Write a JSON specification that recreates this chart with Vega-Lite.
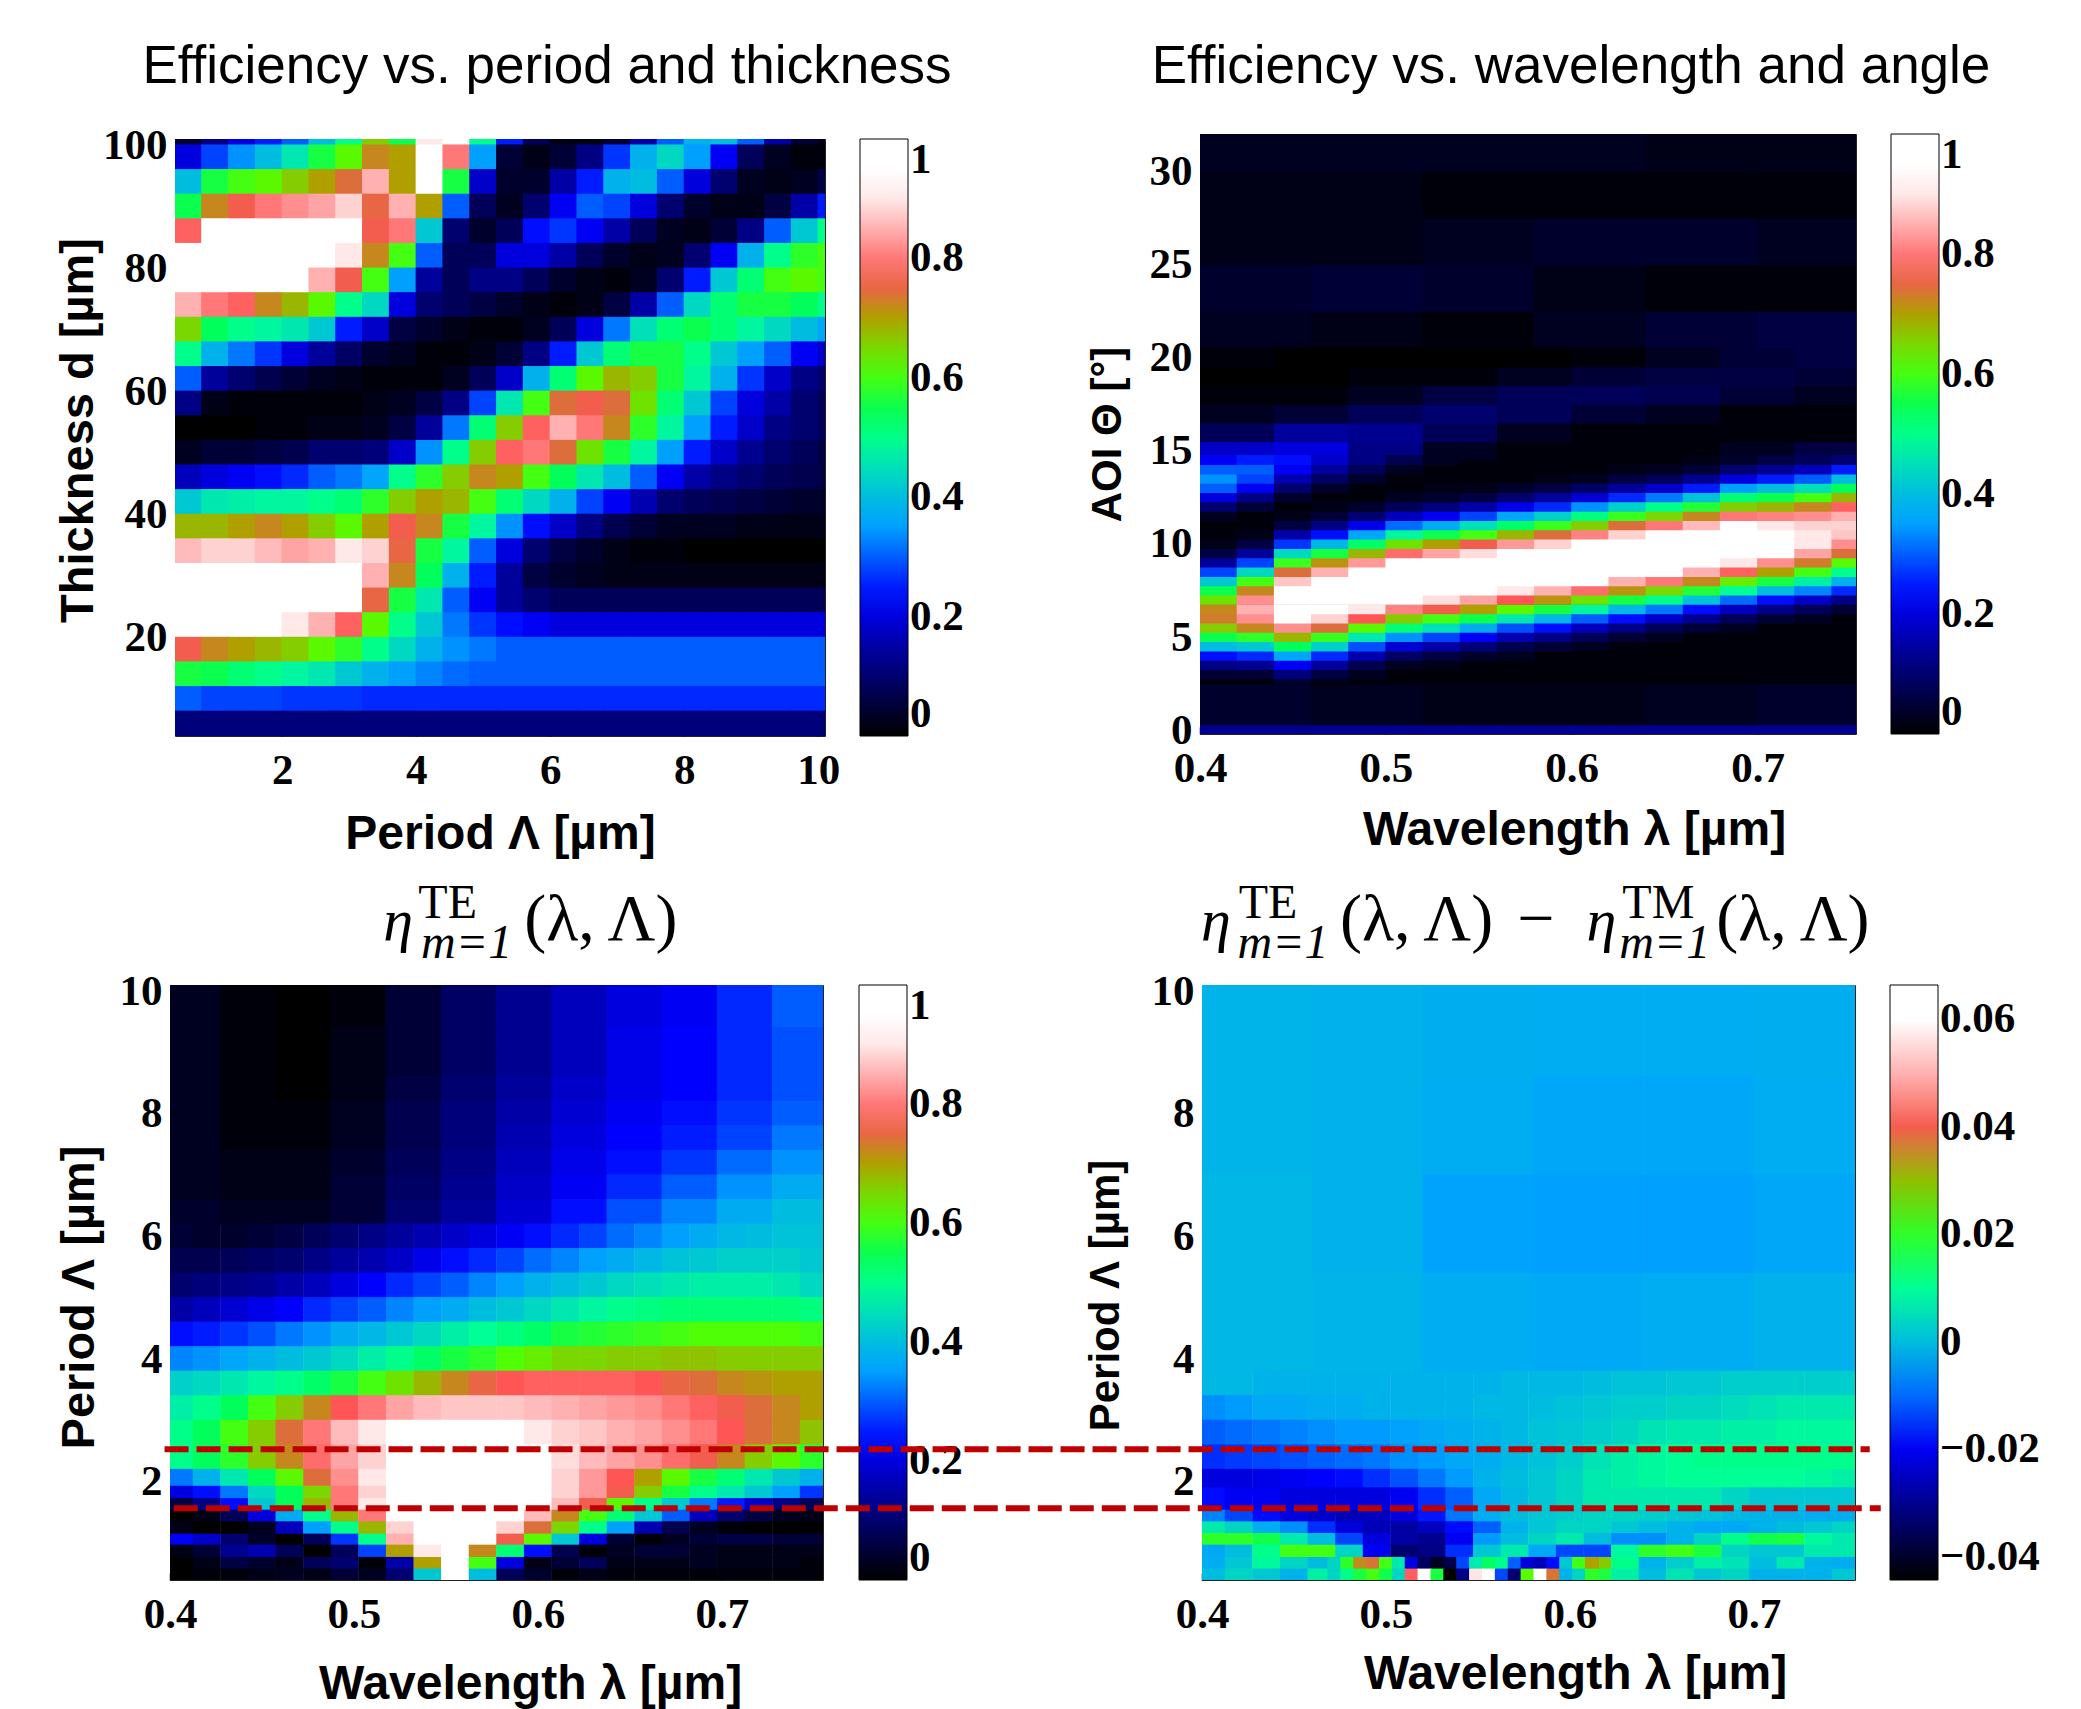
{"$schema":"https://vega.github.io/schema/vega-lite/v6.json","padding":{"left":54,"top":40,"right":5,"bottom":5},"background":"white","bounds":"flush","spacing":851,"resolve":{"scale":{"color":"independent"},"legend":{"color":"independent"}},"config":{"view":{"stroke":"#222","strokeWidth":1},"axis":{"grid":false,"labelFont":"Liberation Serif","labelFontWeight":"bold","labelFontSize":43,"labelColor":"#000","titleFont":"Liberation Sans","titleFontWeight":"bold","titleColor":"#000","titleFontSize":48,"tickColor":"#000","tickSize":-7,"tickWidth":1.5,"domain":false,"zindex":1,"labelFlush":false,"labelOverlap":false},"axisX":{"labelPadding":20,"titlePadding":18},"axisY":{"labelPadding":15,"titlePadding":0},"legend":{"title":null,"labelFont":"Liberation Serif","labelFontWeight":"bold","labelFontSize":43,"labelColor":"#000","gradientStrokeColor":"#000","gradientStrokeWidth":1,"padding":0,"labelOffset":11,"labelOverlap":false,"labelBaseline":"middle","gradientThickness":48},"title":{"font":"Liberation Sans","fontWeight":"normal","fontSize":53,"color":"#000"}},"vconcat":[{"bounds":"flush","spacing":1030,"resolve":{"scale":{"color":"independent"},"legend":{"color":"independent"}},"hconcat":[{"bounds":"flush","spacing":0,"resolve":{"scale":{"color":"independent"},"legend":{"color":"independent"}},"vconcat":[{"width":5,"height":5,"view":{"stroke":null},"data":{"values":[{}]},"mark":{"type":"point","opacity":0},"encoding":{}},{"bounds":"flush","spacing":0,"resolve":{"scale":{"color":"independent"},"legend":{"color":"independent"}},"hconcat":[{"width":5,"height":5,"view":{"stroke":null},"data":{"values":[{}]},"mark":{"type":"point","opacity":0},"encoding":{}},{"width":650,"height":597,"title":{"text":"Efficiency vs. period and thickness","dx":47,"offset":30},"data":{"values":[
{"x":0.6,"y":102,"v":0.05},{"x":1,"y":102,"v":0.12},{"x":1.4,"y":102,"v":0.2},{"x":1.8,"y":102,"v":0.25},{"x":2.2,"y":102,"v":0.3},{"x":2.6,"y":102,"v":0.4},{"x":3,"y":102,"v":0.5},{"x":3.4,"y":102,"v":0.66},{"x":3.8,"y":102,"v":0.55},{"x":4.2,"y":102,"v":0.9},{"x":4.6,"y":102,"v":0.95},{"x":5,"y":102,"v":0.5},{"x":5.4,"y":102,"v":0.25},{"x":5.8,"y":102,"v":0.08},{"x":6.2,"y":102,"v":0.02},{"x":6.6,"y":102,"v":0.02},{"x":7,"y":102,"v":0.05},{"x":7.4,"y":102,"v":0.15},{"x":7.8,"y":102,"v":0.3},{"x":8.2,"y":102,"v":0.38},{"x":8.6,"y":102,"v":0.4},{"x":9,"y":102,"v":0.3},{"x":9.4,"y":102,"v":0.15},{"x":9.8,"y":102,"v":0.05},{"x":10.2,"y":102,"v":0.02},
{"x":0.6,"y":98,"v":0.2},{"x":1,"y":98,"v":0.28},{"x":1.4,"y":98,"v":0.34},{"x":1.8,"y":98,"v":0.4},{"x":2.2,"y":98,"v":0.46},{"x":2.6,"y":98,"v":0.56},{"x":3,"y":98,"v":0.62},{"x":3.4,"y":98,"v":0.72},{"x":3.8,"y":98,"v":0.7},{"x":4.2,"y":98,"v":0.97},{"x":4.6,"y":98,"v":0.8},{"x":5,"y":98,"v":0.35},{"x":5.4,"y":98,"v":0.05},{"x":5.8,"y":98,"v":0.02},{"x":6.2,"y":98,"v":0.05},{"x":6.6,"y":98,"v":0.12},{"x":7,"y":98,"v":0.27},{"x":7.4,"y":98,"v":0.38},{"x":7.8,"y":98,"v":0.44},{"x":8.2,"y":98,"v":0.35},{"x":8.6,"y":98,"v":0.22},{"x":9,"y":98,"v":0.08},{"x":9.4,"y":98,"v":0.03},{"x":9.8,"y":98,"v":0.01},{"x":10.2,"y":98,"v":0.01},
{"x":0.6,"y":94,"v":0.4},{"x":1,"y":94,"v":0.56},{"x":1.4,"y":94,"v":0.6},{"x":1.8,"y":94,"v":0.62},{"x":2.2,"y":94,"v":0.66},{"x":2.6,"y":94,"v":0.7},{"x":3,"y":94,"v":0.74},{"x":3.4,"y":94,"v":0.85},{"x":3.8,"y":94,"v":0.7},{"x":4.2,"y":94,"v":0.98},{"x":4.6,"y":94,"v":0.56},{"x":5,"y":94,"v":0.18},{"x":5.4,"y":94,"v":0.04},{"x":5.8,"y":94,"v":0.04},{"x":6.2,"y":94,"v":0.15},{"x":6.6,"y":94,"v":0.25},{"x":7,"y":94,"v":0.38},{"x":7.4,"y":94,"v":0.4},{"x":7.8,"y":94,"v":0.3},{"x":8.2,"y":94,"v":0.2},{"x":8.6,"y":94,"v":0.1},{"x":9,"y":94,"v":0.03},{"x":9.4,"y":94,"v":0.02},{"x":9.8,"y":94,"v":0.03},{"x":10.2,"y":94,"v":0.06},
{"x":0.6,"y":90,"v":0.55},{"x":1,"y":90,"v":0.72},{"x":1.4,"y":90,"v":0.76},{"x":1.8,"y":90,"v":0.8},{"x":2.2,"y":90,"v":0.82},{"x":2.6,"y":90,"v":0.84},{"x":3,"y":90,"v":0.88},{"x":3.4,"y":90,"v":0.75},{"x":3.8,"y":90,"v":0.85},{"x":4.2,"y":90,"v":0.7},{"x":4.6,"y":90,"v":0.3},{"x":5,"y":90,"v":0.08},{"x":5.4,"y":90,"v":0.03},{"x":5.8,"y":90,"v":0.1},{"x":6.2,"y":90,"v":0.22},{"x":6.6,"y":90,"v":0.3},{"x":7,"y":90,"v":0.28},{"x":7.4,"y":90,"v":0.2},{"x":7.8,"y":90,"v":0.1},{"x":8.2,"y":90,"v":0.04},{"x":8.6,"y":90,"v":0.02},{"x":9,"y":90,"v":0.02},{"x":9.4,"y":90,"v":0.06},{"x":9.8,"y":90,"v":0.15},{"x":10.2,"y":90,"v":0.25},
{"x":0.6,"y":86,"v":0.78},{"x":1,"y":86,"v":0.92},{"x":1.4,"y":86,"v":0.98},{"x":1.8,"y":86,"v":1},{"x":2.2,"y":86,"v":1},{"x":2.6,"y":86,"v":0.98},{"x":3,"y":86,"v":0.95},{"x":3.4,"y":86,"v":0.76},{"x":3.8,"y":86,"v":0.8},{"x":4.2,"y":86,"v":0.42},{"x":4.6,"y":86,"v":0.1},{"x":5,"y":86,"v":0.04},{"x":5.4,"y":86,"v":0.08},{"x":5.8,"y":86,"v":0.24},{"x":6.2,"y":86,"v":0.27},{"x":6.6,"y":86,"v":0.22},{"x":7,"y":86,"v":0.15},{"x":7.4,"y":86,"v":0.08},{"x":7.8,"y":86,"v":0.03},{"x":8.2,"y":86,"v":0.02},{"x":8.6,"y":86,"v":0.05},{"x":9,"y":86,"v":0.12},{"x":9.4,"y":86,"v":0.3},{"x":9.8,"y":86,"v":0.42},{"x":10.2,"y":86,"v":0.5},
{"x":0.6,"y":82,"v":0.95},{"x":1,"y":82,"v":1},{"x":1.4,"y":82,"v":1},{"x":1.8,"y":82,"v":1},{"x":2.2,"y":82,"v":1},{"x":2.6,"y":82,"v":0.98},{"x":3,"y":82,"v":0.9},{"x":3.4,"y":82,"v":0.72},{"x":3.8,"y":82,"v":0.6},{"x":4.2,"y":82,"v":0.3},{"x":4.6,"y":82,"v":0.08},{"x":5,"y":82,"v":0.08},{"x":5.4,"y":82,"v":0.2},{"x":5.8,"y":82,"v":0.2},{"x":6.2,"y":82,"v":0.15},{"x":6.6,"y":82,"v":0.08},{"x":7,"y":82,"v":0.04},{"x":7.4,"y":82,"v":0.02},{"x":7.8,"y":82,"v":0.03},{"x":8.2,"y":82,"v":0.1},{"x":8.6,"y":82,"v":0.22},{"x":9,"y":82,"v":0.38},{"x":9.4,"y":82,"v":0.5},{"x":9.8,"y":82,"v":0.58},{"x":10.2,"y":82,"v":0.6},
{"x":0.6,"y":78,"v":1},{"x":1,"y":78,"v":1},{"x":1.4,"y":78,"v":1},{"x":1.8,"y":78,"v":0.98},{"x":2.2,"y":78,"v":0.92},{"x":2.6,"y":78,"v":0.85},{"x":3,"y":78,"v":0.76},{"x":3.4,"y":78,"v":0.6},{"x":3.8,"y":78,"v":0.35},{"x":4.2,"y":78,"v":0.14},{"x":4.6,"y":78,"v":0.08},{"x":5,"y":78,"v":0.12},{"x":5.4,"y":78,"v":0.12},{"x":5.8,"y":78,"v":0.08},{"x":6.2,"y":78,"v":0.04},{"x":6.6,"y":78,"v":0.02},{"x":7,"y":78,"v":0.01},{"x":7.4,"y":78,"v":0.03},{"x":7.8,"y":78,"v":0.1},{"x":8.2,"y":78,"v":0.25},{"x":8.6,"y":78,"v":0.42},{"x":9,"y":78,"v":0.52},{"x":9.4,"y":78,"v":0.6},{"x":9.8,"y":78,"v":0.62},{"x":10.2,"y":78,"v":0.6},
{"x":0.6,"y":74,"v":0.85},{"x":1,"y":74,"v":0.8},{"x":1.4,"y":74,"v":0.78},{"x":1.8,"y":74,"v":0.72},{"x":2.2,"y":74,"v":0.68},{"x":2.6,"y":74,"v":0.62},{"x":3,"y":74,"v":0.5},{"x":3.4,"y":74,"v":0.44},{"x":3.8,"y":74,"v":0.2},{"x":4.2,"y":74,"v":0.1},{"x":4.6,"y":74,"v":0.08},{"x":5,"y":74,"v":0.06},{"x":5.4,"y":74,"v":0.04},{"x":5.8,"y":74,"v":0.02},{"x":6.2,"y":74,"v":0.01},{"x":6.6,"y":74,"v":0.02},{"x":7,"y":74,"v":0.06},{"x":7.4,"y":74,"v":0.15},{"x":7.8,"y":74,"v":0.3},{"x":8.2,"y":74,"v":0.44},{"x":8.6,"y":74,"v":0.52},{"x":9,"y":74,"v":0.56},{"x":9.4,"y":74,"v":0.56},{"x":9.8,"y":74,"v":0.54},{"x":10.2,"y":74,"v":0.5},
{"x":0.6,"y":70,"v":0.65},{"x":1,"y":70,"v":0.54},{"x":1.4,"y":70,"v":0.5},{"x":1.8,"y":70,"v":0.48},{"x":2.2,"y":70,"v":0.46},{"x":2.6,"y":70,"v":0.42},{"x":3,"y":70,"v":0.25},{"x":3.4,"y":70,"v":0.18},{"x":3.8,"y":70,"v":0.06},{"x":4.2,"y":70,"v":0.04},{"x":4.6,"y":70,"v":0.02},{"x":5,"y":70,"v":0.01},{"x":5.4,"y":70,"v":0.01},{"x":5.8,"y":70,"v":0.03},{"x":6.2,"y":70,"v":0.08},{"x":6.6,"y":70,"v":0.2},{"x":7,"y":70,"v":0.32},{"x":7.4,"y":70,"v":0.45},{"x":7.8,"y":70,"v":0.52},{"x":8.2,"y":70,"v":0.55},{"x":8.6,"y":70,"v":0.52},{"x":9,"y":70,"v":0.48},{"x":9.4,"y":70,"v":0.44},{"x":9.8,"y":70,"v":0.4},{"x":10.2,"y":70,"v":0.36},
{"x":0.6,"y":66,"v":0.5},{"x":1,"y":66,"v":0.38},{"x":1.4,"y":66,"v":0.32},{"x":1.8,"y":66,"v":0.27},{"x":2.2,"y":66,"v":0.2},{"x":2.6,"y":66,"v":0.14},{"x":3,"y":66,"v":0.09},{"x":3.4,"y":66,"v":0.04},{"x":3.8,"y":66,"v":0.03},{"x":4.2,"y":66,"v":0.01},{"x":4.6,"y":66,"v":0.01},{"x":5,"y":66,"v":0.02},{"x":5.4,"y":66,"v":0.05},{"x":5.8,"y":66,"v":0.12},{"x":6.2,"y":66,"v":0.25},{"x":6.6,"y":66,"v":0.42},{"x":7,"y":66,"v":0.52},{"x":7.4,"y":66,"v":0.56},{"x":7.8,"y":66,"v":0.56},{"x":8.2,"y":66,"v":0.5},{"x":8.6,"y":66,"v":0.42},{"x":9,"y":66,"v":0.35},{"x":9.4,"y":66,"v":0.3},{"x":9.8,"y":66,"v":0.22},{"x":10.2,"y":66,"v":0.18},
{"x":0.6,"y":62,"v":0.3},{"x":1,"y":62,"v":0.14},{"x":1.4,"y":62,"v":0.1},{"x":1.8,"y":62,"v":0.07},{"x":2.2,"y":62,"v":0.05},{"x":2.6,"y":62,"v":0.03},{"x":3,"y":62,"v":0.02},{"x":3.4,"y":62,"v":0.01},{"x":3.8,"y":62,"v":0.01},{"x":4.2,"y":62,"v":0.01},{"x":4.6,"y":62,"v":0.03},{"x":5,"y":62,"v":0.08},{"x":5.4,"y":62,"v":0.18},{"x":5.8,"y":62,"v":0.38},{"x":6.2,"y":62,"v":0.52},{"x":6.6,"y":62,"v":0.62},{"x":7,"y":62,"v":0.68},{"x":7.4,"y":62,"v":0.66},{"x":7.8,"y":62,"v":0.56},{"x":8.2,"y":62,"v":0.48},{"x":8.6,"y":62,"v":0.38},{"x":9,"y":62,"v":0.27},{"x":9.4,"y":62,"v":0.18},{"x":9.8,"y":62,"v":0.12},{"x":10.2,"y":62,"v":0.1},
{"x":0.6,"y":58,"v":0.12},{"x":1,"y":58,"v":0.02},{"x":1.4,"y":58,"v":0.01},{"x":1.8,"y":58,"v":0.01},{"x":2.2,"y":58,"v":0.01},{"x":2.6,"y":58,"v":0.01},{"x":3,"y":58,"v":0.01},{"x":3.4,"y":58,"v":0.02},{"x":3.8,"y":58,"v":0.03},{"x":4.2,"y":58,"v":0.06},{"x":4.6,"y":58,"v":0.12},{"x":5,"y":58,"v":0.28},{"x":5.4,"y":58,"v":0.46},{"x":5.8,"y":58,"v":0.6},{"x":6.2,"y":58,"v":0.74},{"x":6.6,"y":58,"v":0.76},{"x":7,"y":58,"v":0.74},{"x":7.4,"y":58,"v":0.64},{"x":7.8,"y":58,"v":0.52},{"x":8.2,"y":58,"v":0.42},{"x":8.6,"y":58,"v":0.28},{"x":9,"y":58,"v":0.2},{"x":9.4,"y":58,"v":0.15},{"x":9.8,"y":58,"v":0.1},{"x":10.2,"y":58,"v":0.08},
{"x":0.6,"y":54,"v":0},{"x":1,"y":54,"v":0},{"x":1.4,"y":54,"v":0},{"x":1.8,"y":54,"v":0.01},{"x":2.2,"y":54,"v":0.01},{"x":2.6,"y":54,"v":0.02},{"x":3,"y":54,"v":0.02},{"x":3.4,"y":54,"v":0.03},{"x":3.8,"y":54,"v":0.06},{"x":4.2,"y":54,"v":0.14},{"x":4.6,"y":54,"v":0.32},{"x":5,"y":54,"v":0.52},{"x":5.4,"y":54,"v":0.66},{"x":5.8,"y":54,"v":0.78},{"x":6.2,"y":54,"v":0.85},{"x":6.6,"y":54,"v":0.8},{"x":7,"y":54,"v":0.72},{"x":7.4,"y":54,"v":0.58},{"x":7.8,"y":54,"v":0.48},{"x":8.2,"y":54,"v":0.35},{"x":8.6,"y":54,"v":0.25},{"x":9,"y":54,"v":0.18},{"x":9.4,"y":54,"v":0.12},{"x":9.8,"y":54,"v":0.1},{"x":10.2,"y":54,"v":0.08},
{"x":0.6,"y":50,"v":0.03},{"x":1,"y":50,"v":0.05},{"x":1.4,"y":50,"v":0.05},{"x":1.8,"y":50,"v":0.06},{"x":2.2,"y":50,"v":0.07},{"x":2.6,"y":50,"v":0.1},{"x":3,"y":50,"v":0.1},{"x":3.4,"y":50,"v":0.11},{"x":3.8,"y":50,"v":0.18},{"x":4.2,"y":50,"v":0.34},{"x":4.6,"y":50,"v":0.5},{"x":5,"y":50,"v":0.66},{"x":5.4,"y":50,"v":0.78},{"x":5.8,"y":50,"v":0.8},{"x":6.2,"y":50,"v":0.74},{"x":6.6,"y":50,"v":0.64},{"x":7,"y":50,"v":0.56},{"x":7.4,"y":50,"v":0.48},{"x":7.8,"y":50,"v":0.35},{"x":8.2,"y":50,"v":0.25},{"x":8.6,"y":50,"v":0.18},{"x":9,"y":50,"v":0.13},{"x":9.4,"y":50,"v":0.1},{"x":9.8,"y":50,"v":0.08},{"x":10.2,"y":50,"v":0.06},
{"x":0.6,"y":46,"v":0.17},{"x":1,"y":46,"v":0.2},{"x":1.4,"y":46,"v":0.22},{"x":1.8,"y":46,"v":0.24},{"x":2.2,"y":46,"v":0.26},{"x":2.6,"y":46,"v":0.3},{"x":3,"y":46,"v":0.32},{"x":3.4,"y":46,"v":0.36},{"x":3.8,"y":46,"v":0.5},{"x":4.2,"y":46,"v":0.58},{"x":4.6,"y":46,"v":0.66},{"x":5,"y":46,"v":0.72},{"x":5.4,"y":46,"v":0.7},{"x":5.8,"y":46,"v":0.6},{"x":6.2,"y":46,"v":0.54},{"x":6.6,"y":46,"v":0.46},{"x":7,"y":46,"v":0.4},{"x":7.4,"y":46,"v":0.3},{"x":7.8,"y":46,"v":0.22},{"x":8.2,"y":46,"v":0.15},{"x":8.6,"y":46,"v":0.12},{"x":9,"y":46,"v":0.1},{"x":9.4,"y":46,"v":0.08},{"x":9.8,"y":46,"v":0.07},{"x":10.2,"y":46,"v":0.06},
{"x":0.6,"y":42,"v":0.42},{"x":1,"y":42,"v":0.46},{"x":1.4,"y":42,"v":0.47},{"x":1.8,"y":42,"v":0.48},{"x":2.2,"y":42,"v":0.48},{"x":2.6,"y":42,"v":0.5},{"x":3,"y":42,"v":0.52},{"x":3.4,"y":42,"v":0.58},{"x":3.8,"y":42,"v":0.66},{"x":4.2,"y":42,"v":0.7},{"x":4.6,"y":42,"v":0.68},{"x":5,"y":42,"v":0.6},{"x":5.4,"y":42,"v":0.52},{"x":5.8,"y":42,"v":0.44},{"x":6.2,"y":42,"v":0.38},{"x":6.6,"y":42,"v":0.28},{"x":7,"y":42,"v":0.22},{"x":7.4,"y":42,"v":0.16},{"x":7.8,"y":42,"v":0.1},{"x":8.2,"y":42,"v":0.08},{"x":8.6,"y":42,"v":0.07},{"x":9,"y":42,"v":0.06},{"x":9.4,"y":42,"v":0.05},{"x":9.8,"y":42,"v":0.04},{"x":10.2,"y":42,"v":0.04},
{"x":0.6,"y":38,"v":0.68},{"x":1,"y":38,"v":0.68},{"x":1.4,"y":38,"v":0.7},{"x":1.8,"y":38,"v":0.72},{"x":2.2,"y":38,"v":0.7},{"x":2.6,"y":38,"v":0.66},{"x":3,"y":38,"v":0.62},{"x":3.4,"y":38,"v":0.7},{"x":3.8,"y":38,"v":0.76},{"x":4.2,"y":38,"v":0.72},{"x":4.6,"y":38,"v":0.56},{"x":5,"y":38,"v":0.48},{"x":5.4,"y":38,"v":0.34},{"x":5.8,"y":38,"v":0.24},{"x":6.2,"y":38,"v":0.18},{"x":6.6,"y":38,"v":0.12},{"x":7,"y":38,"v":0.07},{"x":7.4,"y":38,"v":0.05},{"x":7.8,"y":38,"v":0.03},{"x":8.2,"y":38,"v":0.03},{"x":8.6,"y":38,"v":0.03},{"x":9,"y":38,"v":0.02},{"x":9.4,"y":38,"v":0.02},{"x":9.8,"y":38,"v":0.02},{"x":10.2,"y":38,"v":0.02},
{"x":0.6,"y":34,"v":0.86},{"x":1,"y":34,"v":0.88},{"x":1.4,"y":34,"v":0.88},{"x":1.8,"y":34,"v":0.86},{"x":2.2,"y":34,"v":0.84},{"x":2.6,"y":34,"v":0.85},{"x":3,"y":34,"v":0.9},{"x":3.4,"y":34,"v":0.88},{"x":3.8,"y":34,"v":0.75},{"x":4.2,"y":34,"v":0.56},{"x":4.6,"y":34,"v":0.48},{"x":5,"y":34,"v":0.3},{"x":5.4,"y":34,"v":0.2},{"x":5.8,"y":34,"v":0.1},{"x":6.2,"y":34,"v":0.06},{"x":6.6,"y":34,"v":0.04},{"x":7,"y":34,"v":0.02},{"x":7.4,"y":34,"v":0.01},{"x":7.8,"y":34,"v":0.01},{"x":8.2,"y":34,"v":0},{"x":8.6,"y":34,"v":0},{"x":9,"y":34,"v":0},{"x":9.4,"y":34,"v":0},{"x":9.8,"y":34,"v":0},{"x":10.2,"y":34,"v":0},
{"x":0.6,"y":30,"v":1},{"x":1,"y":30,"v":1},{"x":1.4,"y":30,"v":1},{"x":1.8,"y":30,"v":1},{"x":2.2,"y":30,"v":1},{"x":2.6,"y":30,"v":0.98},{"x":3,"y":30,"v":0.98},{"x":3.4,"y":30,"v":0.85},{"x":3.8,"y":30,"v":0.72},{"x":4.2,"y":30,"v":0.54},{"x":4.6,"y":30,"v":0.38},{"x":5,"y":30,"v":0.25},{"x":5.4,"y":30,"v":0.14},{"x":5.8,"y":30,"v":0.06},{"x":6.2,"y":30,"v":0.04},{"x":6.6,"y":30,"v":0.03},{"x":7,"y":30,"v":0.02},{"x":7.4,"y":30,"v":0.02},{"x":7.8,"y":30,"v":0.02},{"x":8.2,"y":30,"v":0.02},{"x":8.6,"y":30,"v":0.02},{"x":9,"y":30,"v":0.02},{"x":9.4,"y":30,"v":0.02},{"x":9.8,"y":30,"v":0.02},{"x":10.2,"y":30,"v":0.02},
{"x":0.6,"y":26,"v":1},{"x":1,"y":26,"v":1},{"x":1.4,"y":26,"v":1},{"x":1.8,"y":26,"v":1},{"x":2.2,"y":26,"v":1},{"x":2.6,"y":26,"v":1},{"x":3,"y":26,"v":0.95},{"x":3.4,"y":26,"v":0.75},{"x":3.8,"y":26,"v":0.56},{"x":4.2,"y":26,"v":0.46},{"x":4.6,"y":26,"v":0.3},{"x":5,"y":26,"v":0.22},{"x":5.4,"y":26,"v":0.14},{"x":5.8,"y":26,"v":0.1},{"x":6.2,"y":26,"v":0.08},{"x":6.6,"y":26,"v":0.08},{"x":7,"y":26,"v":0.08},{"x":7.4,"y":26,"v":0.08},{"x":7.8,"y":26,"v":0.08},{"x":8.2,"y":26,"v":0.08},{"x":8.6,"y":26,"v":0.08},{"x":9,"y":26,"v":0.08},{"x":9.4,"y":26,"v":0.08},{"x":9.8,"y":26,"v":0.08},{"x":10.2,"y":26,"v":0.08},
{"x":0.6,"y":22,"v":0.98},{"x":1,"y":22,"v":0.95},{"x":1.4,"y":22,"v":0.93},{"x":1.8,"y":22,"v":0.92},{"x":2.2,"y":22,"v":0.9},{"x":2.6,"y":22,"v":0.85},{"x":3,"y":22,"v":0.78},{"x":3.4,"y":22,"v":0.62},{"x":3.8,"y":22,"v":0.5},{"x":4.2,"y":22,"v":0.42},{"x":4.6,"y":22,"v":0.32},{"x":5,"y":22,"v":0.27},{"x":5.4,"y":22,"v":0.24},{"x":5.8,"y":22,"v":0.22},{"x":6.2,"y":22,"v":0.2},{"x":6.6,"y":22,"v":0.2},{"x":7,"y":22,"v":0.2},{"x":7.4,"y":22,"v":0.2},{"x":7.8,"y":22,"v":0.2},{"x":8.2,"y":22,"v":0.2},{"x":8.6,"y":22,"v":0.2},{"x":9,"y":22,"v":0.2},{"x":9.4,"y":22,"v":0.2},{"x":9.8,"y":22,"v":0.2},{"x":10.2,"y":22,"v":0.2},
{"x":0.6,"y":18,"v":0.76},{"x":1,"y":18,"v":0.72},{"x":1.4,"y":18,"v":0.7},{"x":1.8,"y":18,"v":0.68},{"x":2.2,"y":18,"v":0.66},{"x":2.6,"y":18,"v":0.62},{"x":3,"y":18,"v":0.58},{"x":3.4,"y":18,"v":0.5},{"x":3.8,"y":18,"v":0.44},{"x":4.2,"y":18,"v":0.38},{"x":4.6,"y":18,"v":0.34},{"x":5,"y":18,"v":0.32},{"x":5.4,"y":18,"v":0.3},{"x":5.8,"y":18,"v":0.3},{"x":6.2,"y":18,"v":0.3},{"x":6.6,"y":18,"v":0.3},{"x":7,"y":18,"v":0.3},{"x":7.4,"y":18,"v":0.3},{"x":7.8,"y":18,"v":0.3},{"x":8.2,"y":18,"v":0.3},{"x":8.6,"y":18,"v":0.3},{"x":9,"y":18,"v":0.3},{"x":9.4,"y":18,"v":0.3},{"x":9.8,"y":18,"v":0.3},{"x":10.2,"y":18,"v":0.3},
{"x":0.6,"y":14,"v":0.56},{"x":1,"y":14,"v":0.55},{"x":1.4,"y":14,"v":0.52},{"x":1.8,"y":14,"v":0.5},{"x":2.2,"y":14,"v":0.48},{"x":2.6,"y":14,"v":0.46},{"x":3,"y":14,"v":0.42},{"x":3.4,"y":14,"v":0.38},{"x":3.8,"y":14,"v":0.35},{"x":4.2,"y":14,"v":0.33},{"x":4.6,"y":14,"v":0.31},{"x":5,"y":14,"v":0.3},{"x":5.4,"y":14,"v":0.3},{"x":5.8,"y":14,"v":0.3},{"x":6.2,"y":14,"v":0.3},{"x":6.6,"y":14,"v":0.3},{"x":7,"y":14,"v":0.3},{"x":7.4,"y":14,"v":0.3},{"x":7.8,"y":14,"v":0.3},{"x":8.2,"y":14,"v":0.3},{"x":8.6,"y":14,"v":0.3},{"x":9,"y":14,"v":0.3},{"x":9.4,"y":14,"v":0.3},{"x":9.8,"y":14,"v":0.3},{"x":10.2,"y":14,"v":0.3},
{"x":0.6,"y":10,"v":0.3},{"x":1,"y":10,"v":0.28},{"x":1.4,"y":10,"v":0.28},{"x":1.8,"y":10,"v":0.28},{"x":2.2,"y":10,"v":0.27},{"x":2.6,"y":10,"v":0.27},{"x":3,"y":10,"v":0.27},{"x":3.4,"y":10,"v":0.26},{"x":3.8,"y":10,"v":0.26},{"x":4.2,"y":10,"v":0.26},{"x":4.6,"y":10,"v":0.26},{"x":5,"y":10,"v":0.26},{"x":5.4,"y":10,"v":0.26},{"x":5.8,"y":10,"v":0.26},{"x":6.2,"y":10,"v":0.26},{"x":6.6,"y":10,"v":0.26},{"x":7,"y":10,"v":0.26},{"x":7.4,"y":10,"v":0.26},{"x":7.8,"y":10,"v":0.26},{"x":8.2,"y":10,"v":0.26},{"x":8.6,"y":10,"v":0.26},{"x":9,"y":10,"v":0.26},{"x":9.4,"y":10,"v":0.26},{"x":9.8,"y":10,"v":0.26},{"x":10.2,"y":10,"v":0.26},
{"x":0.6,"y":6,"v":0.11},{"x":1,"y":6,"v":0.11},{"x":1.4,"y":6,"v":0.11},{"x":1.8,"y":6,"v":0.11},{"x":2.2,"y":6,"v":0.11},{"x":2.6,"y":6,"v":0.11},{"x":3,"y":6,"v":0.11},{"x":3.4,"y":6,"v":0.11},{"x":3.8,"y":6,"v":0.11},{"x":4.2,"y":6,"v":0.11},{"x":4.6,"y":6,"v":0.11},{"x":5,"y":6,"v":0.11},{"x":5.4,"y":6,"v":0.11},{"x":5.8,"y":6,"v":0.11},{"x":6.2,"y":6,"v":0.11},{"x":6.6,"y":6,"v":0.11},{"x":7,"y":6,"v":0.11},{"x":7.4,"y":6,"v":0.11},{"x":7.8,"y":6,"v":0.11},{"x":8.2,"y":6,"v":0.11},{"x":8.6,"y":6,"v":0.11},{"x":9,"y":6,"v":0.11},{"x":9.4,"y":6,"v":0.11},{"x":9.8,"y":6,"v":0.11},{"x":10.2,"y":6,"v":0.11}
]},"mark":{"type":"rect","width":28,"height":26,"clip":true},"encoding":{"x":{"field":"x","type":"quantitative","title":"Period Λ [µm]","scale":{"domain":[0.4,10.1],"nice":false},"axis":{"values":[2,4,6,8,10]}},"y":{"field":"y","type":"quantitative","title":"Thickness d [µm]","scale":{"domain":[4,101],"nice":false},"axis":{"values":[20,40,60,80,100],"titleFontSize":47,"titleY":291}},"color":{"field":"v","type":"quantitative","scale":{"domain":[0,0.23,0.35,0.42,0.49,0.54,0.615,0.7,0.74,0.77,0.92,1],"range":["#000000","#0000ff","#00a0ff","#00c8d2","#00ff96","#00ff5a","#55ff00","#afa000","#dc6e3c","#ff5555","#ffffff","#ffffff"],"interpolate":"rgb"},"legend":{"orient":"right","offset":35,"gradientLength":597,"values":[0,0.2,0.4,0.6,0.8,1],"format":"~g","encoding":{"labels":{"update":{"baseline":{"value":"middle"}}}}}}}}]}]},{"width":656,"height":600,"title":{"text":"Efficiency vs. wavelength and angle","dx":43,"offset":40},"layer":[{"data":{"values":[
{"x":0.43,"y":1.25,"v":0.04},{"x":0.49,"y":1.25,"v":0.03},{"x":0.55,"y":1.25,"v":0.02},{"x":0.61,"y":1.25,"v":0.02},{"x":0.67,"y":1.25,"v":0.03},{"x":0.73,"y":1.25,"v":0.04},
{"x":0.43,"y":3.75,"v":0.01},{"x":0.49,"y":3.75,"v":0.01},{"x":0.55,"y":3.75,"v":0.01},{"x":0.61,"y":3.75,"v":0.01},{"x":0.67,"y":3.75,"v":0.01},{"x":0.73,"y":3.75,"v":0.01},
{"x":0.43,"y":6.25,"v":0.01},{"x":0.49,"y":6.25,"v":0.01},{"x":0.55,"y":6.25,"v":0.01},{"x":0.61,"y":6.25,"v":0.01},{"x":0.67,"y":6.25,"v":0.01},{"x":0.73,"y":6.25,"v":0.01},
{"x":0.43,"y":8.75,"v":0.01},{"x":0.49,"y":8.75,"v":0.01},{"x":0.55,"y":8.75,"v":0.01},{"x":0.61,"y":8.75,"v":0.01},{"x":0.67,"y":8.75,"v":0.01},{"x":0.73,"y":8.75,"v":0.01},
{"x":0.43,"y":11.25,"v":0.01},{"x":0.49,"y":11.25,"v":0.01},{"x":0.55,"y":11.25,"v":0.01},{"x":0.61,"y":11.25,"v":0.01},{"x":0.67,"y":11.25,"v":0.01},{"x":0.73,"y":11.25,"v":0.01},
{"x":0.43,"y":13.75,"v":0.01},{"x":0.49,"y":13.75,"v":0.01},{"x":0.55,"y":13.75,"v":0.01},{"x":0.61,"y":13.75,"v":0.01},{"x":0.67,"y":13.75,"v":0.01},{"x":0.73,"y":13.75,"v":0.01},
{"x":0.43,"y":21.25,"v":0.03},{"x":0.49,"y":21.25,"v":0.02},{"x":0.55,"y":21.25,"v":0.01},{"x":0.61,"y":21.25,"v":0.03},{"x":0.67,"y":21.25,"v":0.05},{"x":0.73,"y":21.25,"v":0.06},
{"x":0.43,"y":23.75,"v":0.04},{"x":0.49,"y":23.75,"v":0.05},{"x":0.55,"y":23.75,"v":0.04},{"x":0.61,"y":23.75,"v":0.02},{"x":0.67,"y":23.75,"v":0.01},{"x":0.73,"y":23.75,"v":0.01},
{"x":0.43,"y":26.25,"v":0.02},{"x":0.49,"y":26.25,"v":0.02},{"x":0.55,"y":26.25,"v":0.03},{"x":0.61,"y":26.25,"v":0.04},{"x":0.67,"y":26.25,"v":0.04},{"x":0.73,"y":26.25,"v":0.03},
{"x":0.43,"y":28.75,"v":0.02},{"x":0.49,"y":28.75,"v":0.02},{"x":0.55,"y":28.75,"v":0.01},{"x":0.61,"y":28.75,"v":0.01},{"x":0.67,"y":28.75,"v":0.01},{"x":0.73,"y":28.75,"v":0.01},
{"x":0.43,"y":31.25,"v":0.03},{"x":0.49,"y":31.25,"v":0.03},{"x":0.55,"y":31.25,"v":0.03},{"x":0.61,"y":31.25,"v":0.03},{"x":0.67,"y":31.25,"v":0.02},{"x":0.73,"y":31.25,"v":0.02}
]},"mark":{"type":"rect","width":113,"height":48,"clip":true},"encoding":{"x":{"field":"x","type":"quantitative","title":"Wavelength λ [µm]","scale":{"domain":[0.4,0.753],"nice":false},"axis":{"values":[0.4,0.5,0.6,0.7],"format":".1f","titleX":374,"titlePadding":16}},"y":{"field":"y","type":"quantitative","title":"AOI Θ [°]","scale":{"domain":[-0.2,32],"nice":false},"axis":{"values":[0,5,10,15,20,25,30],"titleFontSize":42,"titlePadding":20}},"color":{"field":"v","type":"quantitative","scale":{"domain":[0,0.23,0.35,0.42,0.49,0.54,0.615,0.7,0.74,0.77,0.92,1],"range":["#000000","#0000ff","#00a0ff","#00c8d2","#00ff96","#00ff5a","#55ff00","#afa000","#dc6e3c","#ff5555","#ffffff","#ffffff"],"interpolate":"rgb"},"legend":{"orient":"right","offset":35,"gradientLength":600,"values":[0,0.2,0.4,0.6,0.8,1],"format":"~g","encoding":{"labels":{"update":{"baseline":{"value":"middle"}}}}}}}},{"data":{"values":[
{"x":0.42,"y":15,"v":0.18},{"x":0.46,"y":15,"v":0.2},{"x":0.5,"y":15,"v":0.12},{"x":0.54,"y":15,"v":0.03},{"x":0.58,"y":15,"v":0.01},{"x":0.62,"y":15,"v":0.01},{"x":0.66,"y":15,"v":0.01},{"x":0.7,"y":15,"v":0.03},{"x":0.74,"y":15,"v":0.06},
{"x":0.42,"y":16,"v":0.08},{"x":0.46,"y":16,"v":0.14},{"x":0.5,"y":16,"v":0.13},{"x":0.54,"y":16,"v":0.08},{"x":0.58,"y":16,"v":0.03},{"x":0.62,"y":16,"v":0.01},{"x":0.66,"y":16,"v":0.01},{"x":0.7,"y":16,"v":0.01},{"x":0.74,"y":16,"v":0.01},
{"x":0.42,"y":17,"v":0.03},{"x":0.46,"y":17,"v":0.05},{"x":0.5,"y":17,"v":0.08},{"x":0.54,"y":17,"v":0.1},{"x":0.58,"y":17,"v":0.08},{"x":0.62,"y":17,"v":0.05},{"x":0.66,"y":17,"v":0.03},{"x":0.7,"y":17,"v":0.01},{"x":0.74,"y":17,"v":0.01},
{"x":0.42,"y":18,"v":0.01},{"x":0.46,"y":18,"v":0.01},{"x":0.5,"y":18,"v":0.03},{"x":0.54,"y":18,"v":0.06},{"x":0.58,"y":18,"v":0.08},{"x":0.62,"y":18,"v":0.08},{"x":0.66,"y":18,"v":0.07},{"x":0.7,"y":18,"v":0.05},{"x":0.74,"y":18,"v":0.03},
{"x":0.42,"y":19,"v":0},{"x":0.46,"y":19,"v":0},{"x":0.5,"y":19,"v":0.01},{"x":0.54,"y":19,"v":0.01},{"x":0.58,"y":19,"v":0.03},{"x":0.62,"y":19,"v":0.05},{"x":0.66,"y":19,"v":0.06},{"x":0.7,"y":19,"v":0.06},{"x":0.74,"y":19,"v":0.05},
{"x":0.42,"y":20,"v":0.01},{"x":0.46,"y":20,"v":0},{"x":0.5,"y":20,"v":0},{"x":0.54,"y":20,"v":0},{"x":0.58,"y":20,"v":0},{"x":0.62,"y":20,"v":0.01},{"x":0.66,"y":20,"v":0.03},{"x":0.7,"y":20,"v":0.05},{"x":0.74,"y":20,"v":0.06}
]},"mark":{"type":"rect","width":75,"height":20,"clip":true},"encoding":{"x":{"field":"x","type":"quantitative"},"y":{"field":"y","type":"quantitative"},"color":{"field":"v","type":"quantitative"}}},{"data":{"values":[
{"x":0.41,"y":0,"v":0.13},{"x":0.43,"y":0,"v":0.13},{"x":0.45,"y":0,"v":0.13},{"x":0.47,"y":0,"v":0.13},{"x":0.49,"y":0,"v":0.13},{"x":0.51,"y":0,"v":0.13},{"x":0.53,"y":0,"v":0.13},{"x":0.55,"y":0,"v":0.13},{"x":0.57,"y":0,"v":0.13},{"x":0.59,"y":0,"v":0.13},{"x":0.61,"y":0,"v":0.13},{"x":0.63,"y":0,"v":0.13},{"x":0.65,"y":0,"v":0.13},{"x":0.67,"y":0,"v":0.13},{"x":0.69,"y":0,"v":0.13},{"x":0.71,"y":0,"v":0.13},{"x":0.73,"y":0,"v":0.13},{"x":0.75,"y":0,"v":0.13},
{"x":0.41,"y":3,"v":0.05},{"x":0.41,"y":3.5,"v":0.12},{"x":0.41,"y":4,"v":0.24},{"x":0.41,"y":4.5,"v":0.4},{"x":0.41,"y":5,"v":0.55},{"x":0.41,"y":5.5,"v":0.66},{"x":0.41,"y":6,"v":0.73},{"x":0.41,"y":6.5,"v":0.72},{"x":0.41,"y":7,"v":0.64},{"x":0.41,"y":7.5,"v":0.55},{"x":0.41,"y":8,"v":0.42},{"x":0.41,"y":8.5,"v":0.28},{"x":0.41,"y":9,"v":0.14},{"x":0.41,"y":9.5,"v":0.06},{"x":0.41,"y":10,"v":0.02},{"x":0.41,"y":11.5,"v":0.03},{"x":0.41,"y":12,"v":0.1},{"x":0.41,"y":12.5,"v":0.2},{"x":0.41,"y":13,"v":0.3},{"x":0.41,"y":13.5,"v":0.34},{"x":0.41,"y":14,"v":0.3},{"x":0.41,"y":14.5,"v":0.22},
{"x":0.43,"y":3,"v":0.05},{"x":0.43,"y":3.5,"v":0.13},{"x":0.43,"y":4,"v":0.26},{"x":0.43,"y":4.5,"v":0.42},{"x":0.43,"y":5,"v":0.58},{"x":0.43,"y":5.5,"v":0.72},{"x":0.43,"y":6,"v":0.82},{"x":0.43,"y":6.5,"v":0.85},{"x":0.43,"y":7,"v":0.82},{"x":0.43,"y":7.5,"v":0.72},{"x":0.43,"y":8,"v":0.6},{"x":0.43,"y":8.5,"v":0.44},{"x":0.43,"y":9,"v":0.28},{"x":0.43,"y":9.5,"v":0.14},{"x":0.43,"y":10,"v":0.06},{"x":0.43,"y":10.5,"v":0.02},{"x":0.43,"y":12,"v":0.05},{"x":0.43,"y":12.5,"v":0.12},{"x":0.43,"y":13,"v":0.22},{"x":0.43,"y":13.5,"v":0.28},{"x":0.43,"y":14,"v":0.3},{"x":0.43,"y":14.5,"v":0.25},
{"x":0.45,"y":2.5,"v":0.04},{"x":0.45,"y":3,"v":0.11},{"x":0.45,"y":3.5,"v":0.22},{"x":0.45,"y":4,"v":0.36},{"x":0.45,"y":4.5,"v":0.54},{"x":0.45,"y":5,"v":0.68},{"x":0.45,"y":5.5,"v":0.82},{"x":0.45,"y":6,"v":0.93},{"x":0.45,"y":6.5,"v":0.98},{"x":0.45,"y":7,"v":0.98},{"x":0.45,"y":7.5,"v":0.96},{"x":0.45,"y":8,"v":0.87},{"x":0.45,"y":8.5,"v":0.74},{"x":0.45,"y":9,"v":0.59},{"x":0.45,"y":9.5,"v":0.44},{"x":0.45,"y":10,"v":0.27},{"x":0.45,"y":10.5,"v":0.15},{"x":0.45,"y":11,"v":0.06},{"x":0.45,"y":11.5,"v":0.02},{"x":0.45,"y":12.5,"v":0.04},{"x":0.45,"y":13,"v":0.1},{"x":0.45,"y":13.5,"v":0.16},{"x":0.45,"y":14,"v":0.22},{"x":0.45,"y":14.5,"v":0.24},
{"x":0.47,"y":2.5,"v":0.02},{"x":0.47,"y":3,"v":0.06},{"x":0.47,"y":3.5,"v":0.14},{"x":0.47,"y":4,"v":0.26},{"x":0.47,"y":4.5,"v":0.43},{"x":0.47,"y":5,"v":0.59},{"x":0.47,"y":5.5,"v":0.74},{"x":0.47,"y":6,"v":0.88},{"x":0.47,"y":6.5,"v":0.97},{"x":0.47,"y":7,"v":1},{"x":0.47,"y":7.5,"v":1},{"x":0.47,"y":8,"v":0.96},{"x":0.47,"y":8.5,"v":0.85},{"x":0.47,"y":9,"v":0.71},{"x":0.47,"y":9.5,"v":0.56},{"x":0.47,"y":10,"v":0.39},{"x":0.47,"y":10.5,"v":0.24},{"x":0.47,"y":11,"v":0.12},{"x":0.47,"y":11.5,"v":0.05},{"x":0.47,"y":12,"v":0.02},{"x":0.47,"y":13,"v":0.04},{"x":0.47,"y":13.5,"v":0.09},{"x":0.47,"y":14,"v":0.14},{"x":0.47,"y":14.5,"v":0.18},
{"x":0.49,"y":3,"v":0.03},{"x":0.49,"y":3.5,"v":0.07},{"x":0.49,"y":4,"v":0.16},{"x":0.49,"y":4.5,"v":0.29},{"x":0.49,"y":5,"v":0.46},{"x":0.49,"y":5.5,"v":0.62},{"x":0.49,"y":6,"v":0.77},{"x":0.49,"y":6.5,"v":0.9},{"x":0.49,"y":7,"v":0.99},{"x":0.49,"y":7.5,"v":1},{"x":0.49,"y":8,"v":1},{"x":0.49,"y":8.5,"v":0.94},{"x":0.49,"y":9,"v":0.83},{"x":0.49,"y":9.5,"v":0.68},{"x":0.49,"y":10,"v":0.53},{"x":0.49,"y":10.5,"v":0.36},{"x":0.49,"y":11,"v":0.21},{"x":0.49,"y":11.5,"v":0.1},{"x":0.49,"y":12,"v":0.04},{"x":0.49,"y":13.5,"v":0.04},{"x":0.49,"y":14,"v":0.08},{"x":0.49,"y":14.5,"v":0.12},
{"x":0.51,"y":3.5,"v":0.03},{"x":0.51,"y":4,"v":0.09},{"x":0.51,"y":4.5,"v":0.19},{"x":0.51,"y":5,"v":0.34},{"x":0.51,"y":5.5,"v":0.52},{"x":0.51,"y":6,"v":0.66},{"x":0.51,"y":6.5,"v":0.81},{"x":0.51,"y":7,"v":0.94},{"x":0.51,"y":7.5,"v":1},{"x":0.51,"y":8,"v":1},{"x":0.51,"y":8.5,"v":0.99},{"x":0.51,"y":9,"v":0.92},{"x":0.51,"y":9.5,"v":0.79},{"x":0.51,"y":10,"v":0.64},{"x":0.51,"y":10.5,"v":0.48},{"x":0.51,"y":11,"v":0.31},{"x":0.51,"y":11.5,"v":0.17},{"x":0.51,"y":12,"v":0.08},{"x":0.51,"y":12.5,"v":0.03},{"x":0.51,"y":14,"v":0.03},{"x":0.51,"y":14.5,"v":0.07},
{"x":0.53,"y":3.5,"v":0.02},{"x":0.53,"y":4,"v":0.06},{"x":0.53,"y":4.5,"v":0.15},{"x":0.53,"y":5,"v":0.28},{"x":0.53,"y":5.5,"v":0.45},{"x":0.53,"y":6,"v":0.6},{"x":0.53,"y":6.5,"v":0.76},{"x":0.53,"y":7,"v":0.89},{"x":0.53,"y":7.5,"v":0.98},{"x":0.53,"y":8,"v":1},{"x":0.53,"y":8.5,"v":1},{"x":0.53,"y":9,"v":0.95},{"x":0.53,"y":9.5,"v":0.84},{"x":0.53,"y":10,"v":0.7},{"x":0.53,"y":10.5,"v":0.55},{"x":0.53,"y":11,"v":0.37},{"x":0.53,"y":11.5,"v":0.22},{"x":0.53,"y":12,"v":0.11},{"x":0.53,"y":12.5,"v":0.04},{"x":0.53,"y":13,"v":0.02},{"x":0.53,"y":14.5,"v":0.03},
{"x":0.55,"y":4,"v":0.04},{"x":0.55,"y":4.5,"v":0.11},{"x":0.55,"y":5,"v":0.22},{"x":0.55,"y":5.5,"v":0.37},{"x":0.55,"y":6,"v":0.55},{"x":0.55,"y":6.5,"v":0.7},{"x":0.55,"y":7,"v":0.84},{"x":0.55,"y":7.5,"v":0.95},{"x":0.55,"y":8,"v":1},{"x":0.55,"y":8.5,"v":1},{"x":0.55,"y":9,"v":0.98},{"x":0.55,"y":9.5,"v":0.89},{"x":0.55,"y":10,"v":0.76},{"x":0.55,"y":10.5,"v":0.6},{"x":0.55,"y":11,"v":0.45},{"x":0.55,"y":11.5,"v":0.28},{"x":0.55,"y":12,"v":0.15},{"x":0.55,"y":12.5,"v":0.06},{"x":0.55,"y":13,"v":0.02},
{"x":0.57,"y":4,"v":0.03},{"x":0.57,"y":4.5,"v":0.07},{"x":0.57,"y":5,"v":0.16},{"x":0.57,"y":5.5,"v":0.29},{"x":0.57,"y":6,"v":0.46},{"x":0.57,"y":6.5,"v":0.62},{"x":0.57,"y":7,"v":0.77},{"x":0.57,"y":7.5,"v":0.9},{"x":0.57,"y":8,"v":0.99},{"x":0.57,"y":8.5,"v":1},{"x":0.57,"y":9,"v":1},{"x":0.57,"y":9.5,"v":0.94},{"x":0.57,"y":10,"v":0.83},{"x":0.57,"y":10.5,"v":0.68},{"x":0.57,"y":11,"v":0.53},{"x":0.57,"y":11.5,"v":0.36},{"x":0.57,"y":12,"v":0.21},{"x":0.57,"y":12.5,"v":0.1},{"x":0.57,"y":13,"v":0.04},
{"x":0.59,"y":4.5,"v":0.05},{"x":0.59,"y":5,"v":0.12},{"x":0.59,"y":5.5,"v":0.24},{"x":0.59,"y":6,"v":0.39},{"x":0.59,"y":6.5,"v":0.56},{"x":0.59,"y":7,"v":0.71},{"x":0.59,"y":7.5,"v":0.85},{"x":0.59,"y":8,"v":0.96},{"x":0.59,"y":8.5,"v":1},{"x":0.59,"y":9,"v":1},{"x":0.59,"y":9.5,"v":0.97},{"x":0.59,"y":10,"v":0.88},{"x":0.59,"y":10.5,"v":0.74},{"x":0.59,"y":11,"v":0.59},{"x":0.59,"y":11.5,"v":0.43},{"x":0.59,"y":12,"v":0.26},{"x":0.59,"y":12.5,"v":0.14},{"x":0.59,"y":13,"v":0.06},{"x":0.59,"y":13.5,"v":0.02},
{"x":0.61,"y":4.5,"v":0.03},{"x":0.61,"y":5,"v":0.08},{"x":0.61,"y":5.5,"v":0.17},{"x":0.61,"y":6,"v":0.3},{"x":0.61,"y":6.5,"v":0.48},{"x":0.61,"y":7,"v":0.64},{"x":0.61,"y":7.5,"v":0.79},{"x":0.61,"y":8,"v":0.92},{"x":0.61,"y":8.5,"v":1},{"x":0.61,"y":9,"v":1},{"x":0.61,"y":9.5,"v":1},{"x":0.61,"y":10,"v":0.94},{"x":0.61,"y":10.5,"v":0.81},{"x":0.61,"y":11,"v":0.66},{"x":0.61,"y":11.5,"v":0.51},{"x":0.61,"y":12,"v":0.34},{"x":0.61,"y":12.5,"v":0.19},{"x":0.61,"y":13,"v":0.09},{"x":0.61,"y":13.5,"v":0.03},
{"x":0.63,"y":5,"v":0.05},{"x":0.63,"y":5.5,"v":0.12},{"x":0.63,"y":6,"v":0.24},{"x":0.63,"y":6.5,"v":0.39},{"x":0.63,"y":7,"v":0.56},{"x":0.63,"y":7.5,"v":0.71},{"x":0.63,"y":8,"v":0.85},{"x":0.63,"y":8.5,"v":0.96},{"x":0.63,"y":9,"v":1},{"x":0.63,"y":9.5,"v":1},{"x":0.63,"y":10,"v":0.97},{"x":0.63,"y":10.5,"v":0.88},{"x":0.63,"y":11,"v":0.74},{"x":0.63,"y":11.5,"v":0.59},{"x":0.63,"y":12,"v":0.43},{"x":0.63,"y":12.5,"v":0.26},{"x":0.63,"y":13,"v":0.14},{"x":0.63,"y":13.5,"v":0.06},{"x":0.63,"y":14,"v":0.02},
{"x":0.65,"y":5,"v":0.03},{"x":0.65,"y":5.5,"v":0.08},{"x":0.65,"y":6,"v":0.18},{"x":0.65,"y":6.5,"v":0.32},{"x":0.65,"y":7,"v":0.5},{"x":0.65,"y":7.5,"v":0.65},{"x":0.65,"y":8,"v":0.8},{"x":0.65,"y":8.5,"v":0.93},{"x":0.65,"y":9,"v":1},{"x":0.65,"y":9.5,"v":1},{"x":0.65,"y":10,"v":1},{"x":0.65,"y":10.5,"v":0.93},{"x":0.65,"y":11,"v":0.8},{"x":0.65,"y":11.5,"v":0.65},{"x":0.65,"y":12,"v":0.5},{"x":0.65,"y":12.5,"v":0.32},{"x":0.65,"y":13,"v":0.18},{"x":0.65,"y":13.5,"v":0.08},{"x":0.65,"y":14,"v":0.03},
{"x":0.67,"y":5.5,"v":0.05},{"x":0.67,"y":6,"v":0.13},{"x":0.67,"y":6.5,"v":0.24},{"x":0.67,"y":7,"v":0.41},{"x":0.67,"y":7.5,"v":0.57},{"x":0.67,"y":8,"v":0.72},{"x":0.67,"y":8.5,"v":0.85},{"x":0.67,"y":9,"v":0.95},{"x":0.67,"y":9.5,"v":0.99},{"x":0.67,"y":10,"v":0.99},{"x":0.67,"y":10.5,"v":0.95},{"x":0.67,"y":11,"v":0.86},{"x":0.67,"y":11.5,"v":0.72},{"x":0.67,"y":12,"v":0.57},{"x":0.67,"y":12.5,"v":0.41},{"x":0.67,"y":13,"v":0.25},{"x":0.67,"y":13.5,"v":0.13},{"x":0.67,"y":14,"v":0.05},{"x":0.67,"y":14.5,"v":0.02},
{"x":0.69,"y":5.5,"v":0.03},{"x":0.69,"y":6,"v":0.08},{"x":0.69,"y":6.5,"v":0.17},{"x":0.69,"y":7,"v":0.31},{"x":0.69,"y":7.5,"v":0.49},{"x":0.69,"y":8,"v":0.63},{"x":0.69,"y":8.5,"v":0.78},{"x":0.69,"y":9,"v":0.9},{"x":0.69,"y":9.5,"v":0.96},{"x":0.69,"y":10,"v":0.97},{"x":0.69,"y":10.5,"v":0.97},{"x":0.69,"y":11,"v":0.92},{"x":0.69,"y":11.5,"v":0.8},{"x":0.69,"y":12,"v":0.66},{"x":0.69,"y":12.5,"v":0.52},{"x":0.69,"y":13,"v":0.35},{"x":0.69,"y":13.5,"v":0.2},{"x":0.69,"y":14,"v":0.1},{"x":0.69,"y":14.5,"v":0.04},
{"x":0.71,"y":6,"v":0.05},{"x":0.71,"y":6.5,"v":0.12},{"x":0.71,"y":7,"v":0.24},{"x":0.71,"y":7.5,"v":0.4},{"x":0.71,"y":8,"v":0.56},{"x":0.71,"y":8.5,"v":0.7},{"x":0.71,"y":9,"v":0.82},{"x":0.71,"y":9.5,"v":0.92},{"x":0.71,"y":10,"v":0.94},{"x":0.71,"y":10.5,"v":0.94},{"x":0.71,"y":11,"v":0.9},{"x":0.71,"y":11.5,"v":0.81},{"x":0.71,"y":12,"v":0.68},{"x":0.71,"y":12.5,"v":0.55},{"x":0.71,"y":13,"v":0.4},{"x":0.71,"y":13.5,"v":0.25},{"x":0.71,"y":14,"v":0.13},{"x":0.71,"y":14.5,"v":0.06},
{"x":0.73,"y":6,"v":0.03},{"x":0.73,"y":6.5,"v":0.08},{"x":0.73,"y":7,"v":0.18},{"x":0.73,"y":7.5,"v":0.33},{"x":0.73,"y":8,"v":0.47},{"x":0.73,"y":8.5,"v":0.6},{"x":0.73,"y":9,"v":0.73},{"x":0.73,"y":9.5,"v":0.84},{"x":0.73,"y":10,"v":0.9},{"x":0.73,"y":10.5,"v":0.9},{"x":0.73,"y":11,"v":0.88},{"x":0.73,"y":11.5,"v":0.82},{"x":0.73,"y":12,"v":0.72},{"x":0.73,"y":12.5,"v":0.6},{"x":0.73,"y":13,"v":0.45},{"x":0.73,"y":13.5,"v":0.3},{"x":0.73,"y":14,"v":0.17},{"x":0.73,"y":14.5,"v":0.08},
{"x":0.75,"y":6.5,"v":0.05},{"x":0.75,"y":7,"v":0.12},{"x":0.75,"y":7.5,"v":0.26},{"x":0.75,"y":8,"v":0.38},{"x":0.75,"y":8.5,"v":0.5},{"x":0.75,"y":9,"v":0.62},{"x":0.75,"y":9.5,"v":0.74},{"x":0.75,"y":10,"v":0.82},{"x":0.75,"y":10.5,"v":0.87},{"x":0.75,"y":11,"v":0.88},{"x":0.75,"y":11.5,"v":0.85},{"x":0.75,"y":12,"v":0.78},{"x":0.75,"y":12.5,"v":0.68},{"x":0.75,"y":13,"v":0.54},{"x":0.75,"y":13.5,"v":0.4},{"x":0.75,"y":14,"v":0.25},{"x":0.75,"y":14.5,"v":0.1}
]},"mark":{"type":"rect","width":38,"height":10,"clip":true},"encoding":{"x":{"field":"x","type":"quantitative"},"y":{"field":"y","type":"quantitative"},"color":{"field":"v","type":"quantitative"}}}]}]},{"bounds":"flush","spacing":379,"resolve":{"scale":{"color":"independent"},"legend":{"color":"independent"}},"hconcat":[{"width":653,"height":595,"layer":[{"data":{"values":[
{"x":0.4125,"y":10,"v":0.03},{"x":0.4425,"y":10,"v":0.01},{"x":0.4725,"y":10,"v":0},{"x":0.5025,"y":10,"v":0.01},{"x":0.5325,"y":10,"v":0.05},{"x":0.5625,"y":10,"v":0.09},{"x":0.5925,"y":10,"v":0.13},{"x":0.6225,"y":10,"v":0.17},{"x":0.6525,"y":10,"v":0.2},{"x":0.6825,"y":10,"v":0.22},{"x":0.7125,"y":10,"v":0.26},{"x":0.7425,"y":10,"v":0.3},
{"x":0.4125,"y":9.6,"v":0.03},{"x":0.4425,"y":9.6,"v":0.01},{"x":0.4725,"y":9.6,"v":0},{"x":0.5025,"y":9.6,"v":0.01},{"x":0.5325,"y":9.6,"v":0.05},{"x":0.5625,"y":9.6,"v":0.09},{"x":0.5925,"y":9.6,"v":0.13},{"x":0.6225,"y":9.6,"v":0.17},{"x":0.6525,"y":9.6,"v":0.2},{"x":0.6825,"y":9.6,"v":0.22},{"x":0.7125,"y":9.6,"v":0.26},{"x":0.7425,"y":9.6,"v":0.3},
{"x":0.4125,"y":9.2,"v":0.03},{"x":0.4425,"y":9.2,"v":0.01},{"x":0.4725,"y":9.2,"v":0},{"x":0.5025,"y":9.2,"v":0.02},{"x":0.5325,"y":9.2,"v":0.05},{"x":0.5625,"y":9.2,"v":0.09},{"x":0.5925,"y":9.2,"v":0.13},{"x":0.6225,"y":9.2,"v":0.17},{"x":0.6525,"y":9.2,"v":0.21},{"x":0.6825,"y":9.2,"v":0.23},{"x":0.7125,"y":9.2,"v":0.26},{"x":0.7425,"y":9.2,"v":0.29},
{"x":0.4125,"y":8.8,"v":0.03},{"x":0.4425,"y":8.8,"v":0.01},{"x":0.4725,"y":8.8,"v":0},{"x":0.5025,"y":8.8,"v":0.02},{"x":0.5325,"y":8.8,"v":0.05},{"x":0.5625,"y":8.8,"v":0.09},{"x":0.5925,"y":8.8,"v":0.13},{"x":0.6225,"y":8.8,"v":0.17},{"x":0.6525,"y":8.8,"v":0.21},{"x":0.6825,"y":8.8,"v":0.23},{"x":0.7125,"y":8.8,"v":0.26},{"x":0.7425,"y":8.8,"v":0.29},
{"x":0.4125,"y":8.4,"v":0.03},{"x":0.4425,"y":8.4,"v":0.01},{"x":0.4725,"y":8.4,"v":0},{"x":0.5025,"y":8.4,"v":0.02},{"x":0.5325,"y":8.4,"v":0.06},{"x":0.5625,"y":8.4,"v":0.1},{"x":0.5925,"y":8.4,"v":0.14},{"x":0.6225,"y":8.4,"v":0.18},{"x":0.6525,"y":8.4,"v":0.21},{"x":0.6825,"y":8.4,"v":0.23},{"x":0.7125,"y":8.4,"v":0.26},{"x":0.7425,"y":8.4,"v":0.29},
{"x":0.4125,"y":8,"v":0.03},{"x":0.4425,"y":8,"v":0.01},{"x":0.4725,"y":8,"v":0.01},{"x":0.5025,"y":8,"v":0.03},{"x":0.5325,"y":8,"v":0.07},{"x":0.5625,"y":8,"v":0.11},{"x":0.5925,"y":8,"v":0.15},{"x":0.6225,"y":8,"v":0.19},{"x":0.6525,"y":8,"v":0.22},{"x":0.6825,"y":8,"v":0.24},{"x":0.7125,"y":8,"v":0.27},{"x":0.7425,"y":8,"v":0.3},
{"x":0.4125,"y":7.6,"v":0.03},{"x":0.4425,"y":7.6,"v":0.01},{"x":0.4725,"y":7.6,"v":0.01},{"x":0.5025,"y":7.6,"v":0.03},{"x":0.5325,"y":7.6,"v":0.07},{"x":0.5625,"y":7.6,"v":0.11},{"x":0.5925,"y":7.6,"v":0.16},{"x":0.6225,"y":7.6,"v":0.2},{"x":0.6525,"y":7.6,"v":0.23},{"x":0.6825,"y":7.6,"v":0.25},{"x":0.7125,"y":7.6,"v":0.28},{"x":0.7425,"y":7.6,"v":0.32},
{"x":0.4125,"y":7.2,"v":0.03},{"x":0.4425,"y":7.2,"v":0.02},{"x":0.4725,"y":7.2,"v":0.02},{"x":0.5025,"y":7.2,"v":0.04},{"x":0.5325,"y":7.2,"v":0.08},{"x":0.5625,"y":7.2,"v":0.12},{"x":0.5925,"y":7.2,"v":0.17},{"x":0.6225,"y":7.2,"v":0.21},{"x":0.6525,"y":7.2,"v":0.24},{"x":0.6825,"y":7.2,"v":0.27},{"x":0.7125,"y":7.2,"v":0.31},{"x":0.7425,"y":7.2,"v":0.34},
{"x":0.4125,"y":6.8,"v":0.03},{"x":0.4425,"y":6.8,"v":0.02},{"x":0.4725,"y":6.8,"v":0.02},{"x":0.5025,"y":6.8,"v":0.05},{"x":0.5325,"y":6.8,"v":0.09},{"x":0.5625,"y":6.8,"v":0.13},{"x":0.5925,"y":6.8,"v":0.18},{"x":0.6225,"y":6.8,"v":0.22},{"x":0.6525,"y":6.8,"v":0.26},{"x":0.6825,"y":6.8,"v":0.3},{"x":0.7125,"y":6.8,"v":0.34},{"x":0.7425,"y":6.8,"v":0.37},
{"x":0.4125,"y":6.4,"v":0.04},{"x":0.4425,"y":6.4,"v":0.03},{"x":0.4725,"y":6.4,"v":0.03},{"x":0.5025,"y":6.4,"v":0.05},{"x":0.5325,"y":6.4,"v":0.1},{"x":0.5625,"y":6.4,"v":0.14},{"x":0.5925,"y":6.4,"v":0.19},{"x":0.6225,"y":6.4,"v":0.24},{"x":0.6525,"y":6.4,"v":0.29},{"x":0.6825,"y":6.4,"v":0.33},{"x":0.7125,"y":6.4,"v":0.37},{"x":0.7425,"y":6.4,"v":0.4}
]},"mark":{"type":"rect","width":56,"height":26,"clip":true},"encoding":{"x":{"field":"x","type":"quantitative","title":"Wavelength λ [µm]","scale":{"domain":[0.4,0.755],"nice":false},"axis":{"values":[0.4,0.5,0.6,0.7],"format":".1f","titleX":360,"titlePadding":24}},"y":{"field":"y","type":"quantitative","title":"Period Λ [µm]","scale":{"domain":[0.4,10.1],"nice":false},"axis":{"values":[2,4,6,8,10],"format":"d","titlePadding":16,"titleFontSize":47,"titleY":312}},"color":{"field":"v","type":"quantitative","scale":{"domain":[0,0.23,0.35,0.42,0.49,0.54,0.615,0.7,0.74,0.77,0.92,1],"range":["#000000","#0000ff","#00a0ff","#00c8d2","#00ff96","#00ff5a","#55ff00","#afa000","#dc6e3c","#ff5555","#ffffff","#ffffff"],"interpolate":"rgb"},"legend":{"orient":"right","offset":36,"gradientLength":595,"values":[0,0.2,0.4,0.6,0.8,1],"format":"~g","encoding":{"labels":{"update":{"baseline":{"value":"middle"}}}}}}}},{"data":{"values":[
{"x":0.405,"y":6,"v":0.05},{"x":0.42,"y":6,"v":0.04},{"x":0.435,"y":6,"v":0.04},{"x":0.45,"y":6,"v":0.05},{"x":0.465,"y":6,"v":0.06},{"x":0.48,"y":6,"v":0.08},{"x":0.495,"y":6,"v":0.1},{"x":0.51,"y":6,"v":0.12},{"x":0.525,"y":6,"v":0.14},{"x":0.54,"y":6,"v":0.16},{"x":0.555,"y":6,"v":0.18},{"x":0.57,"y":6,"v":0.2},{"x":0.585,"y":6,"v":0.22},{"x":0.6,"y":6,"v":0.24},{"x":0.615,"y":6,"v":0.26},{"x":0.63,"y":6,"v":0.28},{"x":0.645,"y":6,"v":0.31},{"x":0.66,"y":6,"v":0.33},{"x":0.675,"y":6,"v":0.35},{"x":0.69,"y":6,"v":0.37},{"x":0.705,"y":6,"v":0.39},{"x":0.72,"y":6,"v":0.4},{"x":0.735,"y":6,"v":0.41},{"x":0.75,"y":6,"v":0.41},
{"x":0.405,"y":5.6,"v":0.07},{"x":0.42,"y":5.6,"v":0.07},{"x":0.435,"y":5.6,"v":0.08},{"x":0.45,"y":5.6,"v":0.09},{"x":0.465,"y":5.6,"v":0.1},{"x":0.48,"y":5.6,"v":0.12},{"x":0.495,"y":5.6,"v":0.14},{"x":0.51,"y":5.6,"v":0.16},{"x":0.525,"y":5.6,"v":0.18},{"x":0.54,"y":5.6,"v":0.21},{"x":0.555,"y":5.6,"v":0.24},{"x":0.57,"y":5.6,"v":0.26},{"x":0.585,"y":5.6,"v":0.28},{"x":0.6,"y":5.6,"v":0.31},{"x":0.615,"y":5.6,"v":0.33},{"x":0.63,"y":5.6,"v":0.35},{"x":0.645,"y":5.6,"v":0.37},{"x":0.66,"y":5.6,"v":0.39},{"x":0.675,"y":5.6,"v":0.41},{"x":0.69,"y":5.6,"v":0.42},{"x":0.705,"y":5.6,"v":0.43},{"x":0.72,"y":5.6,"v":0.43},{"x":0.735,"y":5.6,"v":0.43},{"x":0.75,"y":5.6,"v":0.42},
{"x":0.405,"y":5.2,"v":0.1},{"x":0.42,"y":5.2,"v":0.11},{"x":0.435,"y":5.2,"v":0.12},{"x":0.45,"y":5.2,"v":0.13},{"x":0.465,"y":5.2,"v":0.15},{"x":0.48,"y":5.2,"v":0.17},{"x":0.495,"y":5.2,"v":0.2},{"x":0.51,"y":5.2,"v":0.23},{"x":0.525,"y":5.2,"v":0.26},{"x":0.54,"y":5.2,"v":0.28},{"x":0.555,"y":5.2,"v":0.3},{"x":0.57,"y":5.2,"v":0.33},{"x":0.585,"y":5.2,"v":0.35},{"x":0.6,"y":5.2,"v":0.38},{"x":0.615,"y":5.2,"v":0.4},{"x":0.63,"y":5.2,"v":0.42},{"x":0.645,"y":5.2,"v":0.44},{"x":0.66,"y":5.2,"v":0.45},{"x":0.675,"y":5.2,"v":0.46},{"x":0.69,"y":5.2,"v":0.47},{"x":0.705,"y":5.2,"v":0.47},{"x":0.72,"y":5.2,"v":0.47},{"x":0.735,"y":5.2,"v":0.46},{"x":0.75,"y":5.2,"v":0.44},
{"x":0.405,"y":4.8,"v":0.15},{"x":0.42,"y":4.8,"v":0.17},{"x":0.435,"y":4.8,"v":0.19},{"x":0.45,"y":4.8,"v":0.21},{"x":0.465,"y":4.8,"v":0.23},{"x":0.48,"y":4.8,"v":0.26},{"x":0.495,"y":4.8,"v":0.28},{"x":0.51,"y":4.8,"v":0.3},{"x":0.525,"y":4.8,"v":0.33},{"x":0.54,"y":4.8,"v":0.35},{"x":0.555,"y":4.8,"v":0.37},{"x":0.57,"y":4.8,"v":0.4},{"x":0.585,"y":4.8,"v":0.42},{"x":0.6,"y":4.8,"v":0.44},{"x":0.615,"y":4.8,"v":0.46},{"x":0.63,"y":4.8,"v":0.48},{"x":0.645,"y":4.8,"v":0.5},{"x":0.66,"y":4.8,"v":0.51},{"x":0.675,"y":4.8,"v":0.52},{"x":0.69,"y":4.8,"v":0.52},{"x":0.705,"y":4.8,"v":0.52},{"x":0.72,"y":4.8,"v":0.52},{"x":0.735,"y":4.8,"v":0.52},{"x":0.75,"y":4.8,"v":0.51},
{"x":0.405,"y":4.4,"v":0.24},{"x":0.42,"y":4.4,"v":0.25},{"x":0.435,"y":4.4,"v":0.27},{"x":0.45,"y":4.4,"v":0.29},{"x":0.465,"y":4.4,"v":0.32},{"x":0.48,"y":4.4,"v":0.34},{"x":0.495,"y":4.4,"v":0.37},{"x":0.51,"y":4.4,"v":0.39},{"x":0.525,"y":4.4,"v":0.42},{"x":0.54,"y":4.4,"v":0.44},{"x":0.555,"y":4.4,"v":0.47},{"x":0.57,"y":4.4,"v":0.49},{"x":0.585,"y":4.4,"v":0.51},{"x":0.6,"y":4.4,"v":0.53},{"x":0.615,"y":4.4,"v":0.56},{"x":0.63,"y":4.4,"v":0.57},{"x":0.645,"y":4.4,"v":0.58},{"x":0.66,"y":4.4,"v":0.59},{"x":0.675,"y":4.4,"v":0.6},{"x":0.69,"y":4.4,"v":0.61},{"x":0.705,"y":4.4,"v":0.61},{"x":0.72,"y":4.4,"v":0.61},{"x":0.735,"y":4.4,"v":0.61},{"x":0.75,"y":4.4,"v":0.6},
{"x":0.405,"y":4,"v":0.33},{"x":0.42,"y":4,"v":0.34},{"x":0.435,"y":4,"v":0.36},{"x":0.45,"y":4,"v":0.38},{"x":0.465,"y":4,"v":0.4},{"x":0.48,"y":4,"v":0.42},{"x":0.495,"y":4,"v":0.44},{"x":0.51,"y":4,"v":0.47},{"x":0.525,"y":4,"v":0.5},{"x":0.54,"y":4,"v":0.53},{"x":0.555,"y":4,"v":0.56},{"x":0.57,"y":4,"v":0.58},{"x":0.585,"y":4,"v":0.61},{"x":0.6,"y":4,"v":0.63},{"x":0.615,"y":4,"v":0.65},{"x":0.63,"y":4,"v":0.65},{"x":0.645,"y":4,"v":0.66},{"x":0.66,"y":4,"v":0.66},{"x":0.675,"y":4,"v":0.67},{"x":0.69,"y":4,"v":0.67},{"x":0.705,"y":4,"v":0.66},{"x":0.72,"y":4,"v":0.66},{"x":0.735,"y":4,"v":0.66},{"x":0.75,"y":4,"v":0.66},
{"x":0.405,"y":3.6,"v":0.43},{"x":0.42,"y":3.6,"v":0.44},{"x":0.435,"y":3.6,"v":0.46},{"x":0.45,"y":3.6,"v":0.48},{"x":0.465,"y":3.6,"v":0.5},{"x":0.48,"y":3.6,"v":0.53},{"x":0.495,"y":3.6,"v":0.56},{"x":0.51,"y":3.6,"v":0.6},{"x":0.525,"y":3.6,"v":0.64},{"x":0.54,"y":3.6,"v":0.68},{"x":0.555,"y":3.6,"v":0.72},{"x":0.57,"y":3.6,"v":0.75},{"x":0.585,"y":3.6,"v":0.77},{"x":0.6,"y":3.6,"v":0.78},{"x":0.615,"y":3.6,"v":0.78},{"x":0.63,"y":3.6,"v":0.78},{"x":0.645,"y":3.6,"v":0.78},{"x":0.66,"y":3.6,"v":0.77},{"x":0.675,"y":3.6,"v":0.75},{"x":0.69,"y":3.6,"v":0.74},{"x":0.705,"y":3.6,"v":0.72},{"x":0.72,"y":3.6,"v":0.71},{"x":0.735,"y":3.6,"v":0.7},{"x":0.75,"y":3.6,"v":0.7},
{"x":0.405,"y":3.2,"v":0.47},{"x":0.42,"y":3.2,"v":0.5},{"x":0.435,"y":3.2,"v":0.54},{"x":0.45,"y":3.2,"v":0.6},{"x":0.465,"y":3.2,"v":0.66},{"x":0.48,"y":3.2,"v":0.72},{"x":0.495,"y":3.2,"v":0.77},{"x":0.51,"y":3.2,"v":0.8},{"x":0.525,"y":3.2,"v":0.84},{"x":0.54,"y":3.2,"v":0.86},{"x":0.555,"y":3.2,"v":0.87},{"x":0.57,"y":3.2,"v":0.87},{"x":0.585,"y":3.2,"v":0.87},{"x":0.6,"y":3.2,"v":0.86},{"x":0.615,"y":3.2,"v":0.85},{"x":0.63,"y":3.2,"v":0.84},{"x":0.645,"y":3.2,"v":0.83},{"x":0.66,"y":3.2,"v":0.82},{"x":0.675,"y":3.2,"v":0.8},{"x":0.69,"y":3.2,"v":0.78},{"x":0.705,"y":3.2,"v":0.76},{"x":0.72,"y":3.2,"v":0.74},{"x":0.735,"y":3.2,"v":0.72},{"x":0.75,"y":3.2,"v":0.7},
{"x":0.405,"y":2.8,"v":0.5},{"x":0.42,"y":2.8,"v":0.54},{"x":0.435,"y":2.8,"v":0.6},{"x":0.45,"y":2.8,"v":0.66},{"x":0.465,"y":2.8,"v":0.74},{"x":0.48,"y":2.8,"v":0.8},{"x":0.495,"y":2.8,"v":0.86},{"x":0.51,"y":2.8,"v":0.9},{"x":0.525,"y":2.8,"v":0.97},{"x":0.54,"y":2.8,"v":1},{"x":0.555,"y":2.8,"v":1},{"x":0.57,"y":2.8,"v":1},{"x":0.585,"y":2.8,"v":0.98},{"x":0.6,"y":2.8,"v":0.9},{"x":0.615,"y":2.8,"v":0.88},{"x":0.63,"y":2.8,"v":0.87},{"x":0.645,"y":2.8,"v":0.85},{"x":0.66,"y":2.8,"v":0.84},{"x":0.675,"y":2.8,"v":0.82},{"x":0.69,"y":2.8,"v":0.8},{"x":0.705,"y":2.8,"v":0.77},{"x":0.72,"y":2.8,"v":0.74},{"x":0.735,"y":2.8,"v":0.72},{"x":0.75,"y":2.8,"v":0.67},
{"x":0.405,"y":2.4,"v":0.5},{"x":0.42,"y":2.4,"v":0.54},{"x":0.435,"y":2.4,"v":0.58},{"x":0.45,"y":2.4,"v":0.66},{"x":0.465,"y":2.4,"v":0.72},{"x":0.48,"y":2.4,"v":0.79},{"x":0.495,"y":2.4,"v":0.84},{"x":0.51,"y":2.4,"v":0.88},{"x":0.525,"y":2.4,"v":0.92},{"x":0.54,"y":2.4,"v":1},{"x":0.555,"y":2.4,"v":1},{"x":0.57,"y":2.4,"v":1},{"x":0.585,"y":2.4,"v":1},{"x":0.6,"y":2.4,"v":0.92},{"x":0.615,"y":2.4,"v":0.89},{"x":0.63,"y":2.4,"v":0.86},{"x":0.645,"y":2.4,"v":0.84},{"x":0.66,"y":2.4,"v":0.82},{"x":0.675,"y":2.4,"v":0.79},{"x":0.69,"y":2.4,"v":0.76},{"x":0.705,"y":2.4,"v":0.72},{"x":0.72,"y":2.4,"v":0.66},{"x":0.735,"y":2.4,"v":0.62},{"x":0.75,"y":2.4,"v":0.58},
{"x":0.405,"y":2,"v":0.32},{"x":0.42,"y":2,"v":0.38},{"x":0.435,"y":2,"v":0.46},{"x":0.45,"y":2,"v":0.54},{"x":0.465,"y":2,"v":0.62},{"x":0.48,"y":2,"v":0.74},{"x":0.495,"y":2,"v":0.82},{"x":0.51,"y":2,"v":0.9},{"x":0.525,"y":2,"v":1},{"x":0.54,"y":2,"v":1},{"x":0.555,"y":2,"v":1},{"x":0.57,"y":2,"v":1},{"x":0.585,"y":2,"v":1},{"x":0.6,"y":2,"v":0.94},{"x":0.615,"y":2,"v":0.88},{"x":0.63,"y":2,"v":0.83},{"x":0.645,"y":2,"v":0.77},{"x":0.66,"y":2,"v":0.7},{"x":0.675,"y":2,"v":0.62},{"x":0.69,"y":2,"v":0.56},{"x":0.705,"y":2,"v":0.52},{"x":0.72,"y":2,"v":0.46},{"x":0.735,"y":2,"v":0.42},{"x":0.75,"y":2,"v":0.38}
]},"mark":{"type":"rect","width":28,"height":26,"clip":true},"encoding":{"x":{"field":"x","type":"quantitative"},"y":{"field":"y","type":"quantitative"},"color":{"field":"v","type":"quantitative"}}},{"data":{"values":[
{"x":0.405,"y":1.83,"v":0.2},{"x":0.42,"y":1.83,"v":0.24},{"x":0.435,"y":1.83,"v":0.32},{"x":0.45,"y":1.83,"v":0.44},{"x":0.465,"y":1.83,"v":0.54},{"x":0.48,"y":1.83,"v":0.65},{"x":0.495,"y":1.83,"v":0.8},{"x":0.51,"y":1.83,"v":0.88},{"x":0.525,"y":1.83,"v":1},{"x":0.54,"y":1.83,"v":1},{"x":0.555,"y":1.83,"v":1},{"x":0.57,"y":1.83,"v":1},{"x":0.585,"y":1.83,"v":1},{"x":0.6,"y":1.83,"v":0.94},{"x":0.615,"y":1.83,"v":0.88},{"x":0.63,"y":1.83,"v":0.83},{"x":0.645,"y":1.83,"v":0.76},{"x":0.66,"y":1.83,"v":0.66},{"x":0.675,"y":1.83,"v":0.56},{"x":0.69,"y":1.83,"v":0.5},{"x":0.705,"y":1.83,"v":0.46},{"x":0.72,"y":1.83,"v":0.42},{"x":0.735,"y":1.83,"v":0.35},{"x":0.75,"y":1.83,"v":0.27},
{"x":0.405,"y":1.63,"v":0.06},{"x":0.42,"y":1.63,"v":0.12},{"x":0.435,"y":1.63,"v":0.24},{"x":0.45,"y":1.63,"v":0.42},{"x":0.465,"y":1.63,"v":0.54},{"x":0.48,"y":1.63,"v":0.68},{"x":0.495,"y":1.63,"v":0.8},{"x":0.51,"y":1.63,"v":0.9},{"x":0.525,"y":1.63,"v":1},{"x":0.54,"y":1.63,"v":1},{"x":0.555,"y":1.63,"v":1},{"x":0.57,"y":1.63,"v":1},{"x":0.585,"y":1.63,"v":1},{"x":0.6,"y":1.63,"v":0.96},{"x":0.615,"y":1.63,"v":0.86},{"x":0.63,"y":1.63,"v":0.76},{"x":0.645,"y":1.63,"v":0.62},{"x":0.66,"y":1.63,"v":0.5},{"x":0.675,"y":1.63,"v":0.42},{"x":0.69,"y":1.63,"v":0.32},{"x":0.705,"y":1.63,"v":0.25},{"x":0.72,"y":1.63,"v":0.18},{"x":0.735,"y":1.63,"v":0.12},{"x":0.75,"y":1.63,"v":0.08},
{"x":0.405,"y":1.44,"v":0},{"x":0.42,"y":1.44,"v":0.02},{"x":0.435,"y":1.44,"v":0.08},{"x":0.45,"y":1.44,"v":0.2},{"x":0.465,"y":1.44,"v":0.37},{"x":0.48,"y":1.44,"v":0.5},{"x":0.495,"y":1.44,"v":0.68},{"x":0.51,"y":1.44,"v":0.8},{"x":0.525,"y":1.44,"v":1},{"x":0.54,"y":1.44,"v":1},{"x":0.555,"y":1.44,"v":1},{"x":0.57,"y":1.44,"v":1},{"x":0.585,"y":1.44,"v":1},{"x":0.6,"y":1.44,"v":0.86},{"x":0.615,"y":1.44,"v":0.72},{"x":0.63,"y":1.44,"v":0.6},{"x":0.645,"y":1.44,"v":0.52},{"x":0.66,"y":1.44,"v":0.42},{"x":0.675,"y":1.44,"v":0.3},{"x":0.69,"y":1.44,"v":0.17},{"x":0.705,"y":1.44,"v":0.1},{"x":0.72,"y":1.44,"v":0.06},{"x":0.735,"y":1.44,"v":0.03},{"x":0.75,"y":1.44,"v":0.02},
{"x":0.405,"y":1.25,"v":0.02},{"x":0.42,"y":1.25,"v":0},{"x":0.435,"y":1.25,"v":0},{"x":0.45,"y":1.25,"v":0.03},{"x":0.465,"y":1.25,"v":0.17},{"x":0.48,"y":1.25,"v":0.35},{"x":0.495,"y":1.25,"v":0.5},{"x":0.51,"y":1.25,"v":0.68},{"x":0.525,"y":1.25,"v":0.88},{"x":0.54,"y":1.25,"v":1},{"x":0.555,"y":1.25,"v":1},{"x":0.57,"y":1.25,"v":1},{"x":0.585,"y":1.25,"v":0.88},{"x":0.6,"y":1.25,"v":0.74},{"x":0.615,"y":1.25,"v":0.65},{"x":0.63,"y":1.25,"v":0.5},{"x":0.645,"y":1.25,"v":0.35},{"x":0.66,"y":1.25,"v":0.16},{"x":0.675,"y":1.25,"v":0.07},{"x":0.69,"y":1.25,"v":0.03},{"x":0.705,"y":1.25,"v":0.01},{"x":0.72,"y":1.25,"v":0},{"x":0.735,"y":1.25,"v":0},{"x":0.75,"y":1.25,"v":0},
{"x":0.405,"y":1.05,"v":0.22},{"x":0.42,"y":1.05,"v":0.18},{"x":0.435,"y":1.05,"v":0.1},{"x":0.45,"y":1.05,"v":0.04},{"x":0.465,"y":1.05,"v":0},{"x":0.48,"y":1.05,"v":0.08},{"x":0.495,"y":1.05,"v":0.27},{"x":0.51,"y":1.05,"v":0.5},{"x":0.525,"y":1.05,"v":0.85},{"x":0.54,"y":1.05,"v":1},{"x":0.555,"y":1.05,"v":1},{"x":0.57,"y":1.05,"v":0.92},{"x":0.585,"y":1.05,"v":0.76},{"x":0.6,"y":1.05,"v":0.62},{"x":0.615,"y":1.05,"v":0.42},{"x":0.63,"y":1.05,"v":0.2},{"x":0.645,"y":1.05,"v":0.05},{"x":0.66,"y":1.05,"v":0.01},{"x":0.675,"y":1.05,"v":0.03},{"x":0.69,"y":1.05,"v":0.05},{"x":0.705,"y":1.05,"v":0.06},{"x":0.72,"y":1.05,"v":0.06},{"x":0.735,"y":1.05,"v":0.05},{"x":0.75,"y":1.05,"v":0.05},
{"x":0.405,"y":0.87,"v":0.02},{"x":0.42,"y":0.87,"v":0.05},{"x":0.435,"y":0.87,"v":0.13},{"x":0.45,"y":0.87,"v":0.16},{"x":0.465,"y":0.87,"v":0.08},{"x":0.48,"y":0.87,"v":0},{"x":0.495,"y":0.87,"v":0.08},{"x":0.51,"y":0.87,"v":0.28},{"x":0.525,"y":0.87,"v":0.7},{"x":0.54,"y":0.87,"v":0.9},{"x":0.555,"y":0.87,"v":1},{"x":0.57,"y":0.87,"v":0.72},{"x":0.585,"y":0.87,"v":0.52},{"x":0.6,"y":0.87,"v":0.24},{"x":0.615,"y":0.87,"v":0.07},{"x":0.63,"y":0.87,"v":0.01},{"x":0.645,"y":0.87,"v":0.03},{"x":0.66,"y":0.87,"v":0.05},{"x":0.675,"y":0.87,"v":0.05},{"x":0.69,"y":0.87,"v":0.03},{"x":0.705,"y":0.87,"v":0.02},{"x":0.72,"y":0.87,"v":0.02},{"x":0.735,"y":0.87,"v":0.02},{"x":0.75,"y":0.87,"v":0.02},
{"x":0.405,"y":0.67,"v":0},{"x":0.42,"y":0.67,"v":0.02},{"x":0.435,"y":0.67,"v":0.06},{"x":0.45,"y":0.67,"v":0.04},{"x":0.465,"y":0.67,"v":0.02},{"x":0.48,"y":0.67,"v":0.08},{"x":0.495,"y":0.67,"v":0.1},{"x":0.51,"y":0.67,"v":0.01},{"x":0.525,"y":0.67,"v":0.15},{"x":0.54,"y":0.67,"v":0.7},{"x":0.555,"y":0.67,"v":1},{"x":0.57,"y":0.67,"v":0.6},{"x":0.585,"y":0.67,"v":0.2},{"x":0.6,"y":0.67,"v":0.02},{"x":0.615,"y":0.67,"v":0.05},{"x":0.63,"y":0.67,"v":0.08},{"x":0.645,"y":0.67,"v":0.02},{"x":0.66,"y":0.67,"v":0.02},{"x":0.675,"y":0.67,"v":0.02},{"x":0.69,"y":0.67,"v":0.03},{"x":0.705,"y":0.67,"v":0.02},{"x":0.72,"y":0.67,"v":0.02},{"x":0.735,"y":0.67,"v":0.02},{"x":0.75,"y":0.67,"v":0.01},
{"x":0.405,"y":0.48,"v":0},{"x":0.42,"y":0.48,"v":0.01},{"x":0.435,"y":0.48,"v":0.01},{"x":0.45,"y":0.48,"v":0.02},{"x":0.465,"y":0.48,"v":0.03},{"x":0.48,"y":0.48,"v":0.02},{"x":0.495,"y":0.48,"v":0.05},{"x":0.51,"y":0.48,"v":0.03},{"x":0.525,"y":0.48,"v":0.1},{"x":0.54,"y":0.48,"v":0.42},{"x":0.555,"y":0.48,"v":0.95},{"x":0.57,"y":0.48,"v":0.4},{"x":0.585,"y":0.48,"v":0.08},{"x":0.6,"y":0.48,"v":0.04},{"x":0.615,"y":0.48,"v":0.01},{"x":0.63,"y":0.48,"v":0.02},{"x":0.645,"y":0.48,"v":0.01},{"x":0.66,"y":0.48,"v":0.01},{"x":0.675,"y":0.48,"v":0.01},{"x":0.69,"y":0.48,"v":0.01},{"x":0.705,"y":0.48,"v":0.01},{"x":0.72,"y":0.48,"v":0.01},{"x":0.735,"y":0.48,"v":0.01},{"x":0.75,"y":0.48,"v":0.01}
]},"mark":{"type":"rect","width":28,"height":13,"clip":true},"encoding":{"x":{"field":"x","type":"quantitative"},"y":{"field":"y","type":"quantitative"},"color":{"field":"v","type":"quantitative"}}},{"data":{"values":[{"x":0.5159,"y":10.83,"t":"η"}]},"mark":{"type":"text","font":"Liberation Serif","fontStyle":"italic","fontSize":60,"align":"left","baseline":"alphabetic"},"encoding":{"x":{"field":"x","type":"quantitative"},"y":{"field":"y","type":"quantitative"},"text":{"field":"t"}}},{"data":{"values":[{"x":0.5926,"y":10.83,"t":"(λ, Λ)"}]},"mark":{"type":"text","font":"Liberation Serif","fontSize":66,"align":"left","baseline":"alphabetic"},"encoding":{"x":{"field":"x","type":"quantitative"},"y":{"field":"y","type":"quantitative"},"text":{"field":"t"}}},{"data":{"values":[{"x":0.535,"y":11.19,"t":"TE"}]},"mark":{"type":"text","font":"Liberation Serif","fontSize":48,"align":"left","baseline":"alphabetic"},"encoding":{"x":{"field":"x","type":"quantitative"},"y":{"field":"y","type":"quantitative"},"text":{"field":"t"}}},{"data":{"values":[{"x":0.5365,"y":10.54,"t":"m=1"}]},"mark":{"type":"text","font":"Liberation Serif","fontStyle":"italic","fontSize":48,"align":"left","baseline":"alphabetic"},"encoding":{"x":{"field":"x","type":"quantitative"},"y":{"field":"y","type":"quantitative"},"text":{"field":"t"}}}]},{"width":653,"height":595,"layer":[{"data":{"values":[
{"x":0.43,"y":9.4,"v":-0.0017},{"x":0.49,"y":9.4,"v":-0.0022},{"x":0.55,"y":9.4,"v":-0.0028},{"x":0.61,"y":9.4,"v":-0.0033},{"x":0.67,"y":9.4,"v":-0.0033},{"x":0.73,"y":9.4,"v":-0.0028},
{"x":0.43,"y":7.8,"v":-0.0017},{"x":0.49,"y":7.8,"v":-0.0022},{"x":0.55,"y":7.8,"v":-0.0033},{"x":0.61,"y":7.8,"v":-0.0044},{"x":0.67,"y":7.8,"v":-0.0044},{"x":0.73,"y":7.8,"v":-0.0033},
{"x":0.43,"y":6.2,"v":-0.0011},{"x":0.49,"y":6.2,"v":-0.0022},{"x":0.55,"y":6.2,"v":-0.005},{"x":0.61,"y":6.2,"v":-0.0055},{"x":0.67,"y":6.2,"v":-0.0055},{"x":0.73,"y":6.2,"v":-0.0044},
{"x":0.43,"y":4.6,"v":-0.0011},{"x":0.49,"y":4.6,"v":-0.0017},{"x":0.55,"y":4.6,"v":-0.0033},{"x":0.61,"y":4.6,"v":-0.0039},{"x":0.67,"y":4.6,"v":-0.0033},{"x":0.73,"y":4.6,"v":-0.0022}
]},"mark":{"type":"rect","width":111,"height":99,"clip":true},"encoding":{"x":{"field":"x","type":"quantitative","title":"Wavelength λ [µm]","scale":{"domain":[0.4,0.755],"nice":false},"axis":{"values":[0.4,0.5,0.6,0.7],"format":".1f","titleX":373,"titlePadding":14}},"y":{"field":"y","type":"quantitative","title":"Period Λ [µm]","scale":{"domain":[0.4,10.1],"nice":false},"axis":{"values":[2,4,6,8,10],"format":"d","titleFontSize":42,"titlePadding":24,"titleY":310}},"color":{"field":"v","type":"quantitative","scale":{"domain":[-0.0443,-0.0188,-0.0056,0.0022,0.0099,0.0155,0.0238,0.0332,0.0376,0.041,0.0575,0.0664],"range":["#000000","#0000ff","#00a0ff","#00c8d2","#00ff96","#00ff5a","#55ff00","#afa000","#dc6e3c","#ff5555","#ffffff","#ffffff"],"interpolate":"rgb"},"legend":{"orient":"right","offset":35,"gradientLength":595,"values":[-0.04,-0.02,0,0.02,0.04,0.06],"format":"~g","encoding":{"labels":{"update":{"baseline":{"value":"middle"}}}}}}}},{"data":{"values":[
{"x":0.405,"y":3.6,"v":-0.001},{"x":0.42,"y":3.6,"v":-0.001},{"x":0.435,"y":3.6,"v":-0.002},{"x":0.45,"y":3.6,"v":-0.002},{"x":0.465,"y":3.6,"v":-0.002},{"x":0.48,"y":3.6,"v":-0.002},{"x":0.495,"y":3.6,"v":-0.002},{"x":0.51,"y":3.6,"v":-0.002},{"x":0.525,"y":3.6,"v":-0.002},{"x":0.54,"y":3.6,"v":-0.002},{"x":0.555,"y":3.6,"v":-0.002},{"x":0.57,"y":3.6,"v":-0.001},{"x":0.585,"y":3.6,"v":-0.001},{"x":0.6,"y":3.6,"v":-0.001},{"x":0.615,"y":3.6,"v":0},{"x":0.63,"y":3.6,"v":0.001},{"x":0.645,"y":3.6,"v":0.001},{"x":0.66,"y":3.6,"v":0.002},{"x":0.675,"y":3.6,"v":0.002},{"x":0.69,"y":3.6,"v":0.003},{"x":0.705,"y":3.6,"v":0.003},{"x":0.72,"y":3.6,"v":0.003},{"x":0.735,"y":3.6,"v":0.003},{"x":0.75,"y":3.6,"v":0.003},
{"x":0.405,"y":3.2,"v":-0.007},{"x":0.42,"y":3.2,"v":-0.006},{"x":0.435,"y":3.2,"v":-0.004},{"x":0.45,"y":3.2,"v":-0.004},{"x":0.465,"y":3.2,"v":-0.003},{"x":0.48,"y":3.2,"v":-0.003},{"x":0.495,"y":3.2,"v":-0.002},{"x":0.51,"y":3.2,"v":-0.002},{"x":0.525,"y":3.2,"v":-0.002},{"x":0.54,"y":3.2,"v":-0.002},{"x":0.555,"y":3.2,"v":-0.001},{"x":0.57,"y":3.2,"v":-0.001},{"x":0.585,"y":3.2,"v":0},{"x":0.6,"y":3.2,"v":0.001},{"x":0.615,"y":3.2,"v":0.002},{"x":0.63,"y":3.2,"v":0.003},{"x":0.645,"y":3.2,"v":0.003},{"x":0.66,"y":3.2,"v":0.004},{"x":0.675,"y":3.2,"v":0.004},{"x":0.69,"y":3.2,"v":0.005},{"x":0.705,"y":3.2,"v":0.006},{"x":0.72,"y":3.2,"v":0.007},{"x":0.735,"y":3.2,"v":0.007},{"x":0.75,"y":3.2,"v":0.007},
{"x":0.405,"y":2.8,"v":-0.011},{"x":0.42,"y":2.8,"v":-0.01},{"x":0.435,"y":2.8,"v":-0.009},{"x":0.45,"y":2.8,"v":-0.008},{"x":0.465,"y":2.8,"v":-0.007},{"x":0.48,"y":2.8,"v":-0.006},{"x":0.495,"y":2.8,"v":-0.006},{"x":0.51,"y":2.8,"v":-0.005},{"x":0.525,"y":2.8,"v":-0.004},{"x":0.54,"y":2.8,"v":-0.003},{"x":0.555,"y":2.8,"v":-0.002},{"x":0.57,"y":2.8,"v":-0.001},{"x":0.585,"y":2.8,"v":0.001},{"x":0.6,"y":2.8,"v":0.002},{"x":0.615,"y":2.8,"v":0.003},{"x":0.63,"y":2.8,"v":0.004},{"x":0.645,"y":2.8,"v":0.006},{"x":0.66,"y":2.8,"v":0.007},{"x":0.675,"y":2.8,"v":0.007},{"x":0.69,"y":2.8,"v":0.008},{"x":0.705,"y":2.8,"v":0.008},{"x":0.72,"y":2.8,"v":0.009},{"x":0.735,"y":2.8,"v":0.009},{"x":0.75,"y":2.8,"v":0.009},
{"x":0.405,"y":2.4,"v":-0.015},{"x":0.42,"y":2.4,"v":-0.014},{"x":0.435,"y":2.4,"v":-0.013},{"x":0.45,"y":2.4,"v":-0.012},{"x":0.465,"y":2.4,"v":-0.011},{"x":0.48,"y":2.4,"v":-0.01},{"x":0.495,"y":2.4,"v":-0.009},{"x":0.51,"y":2.4,"v":-0.007},{"x":0.525,"y":2.4,"v":-0.006},{"x":0.54,"y":2.4,"v":-0.004},{"x":0.555,"y":2.4,"v":-0.003},{"x":0.57,"y":2.4,"v":-0.001},{"x":0.585,"y":2.4,"v":0.001},{"x":0.6,"y":2.4,"v":0.003},{"x":0.615,"y":2.4,"v":0.006},{"x":0.63,"y":2.4,"v":0.008},{"x":0.645,"y":2.4,"v":0.009},{"x":0.66,"y":2.4,"v":0.01},{"x":0.675,"y":2.4,"v":0.011},{"x":0.69,"y":2.4,"v":0.011},{"x":0.705,"y":2.4,"v":0.011},{"x":0.72,"y":2.4,"v":0.011},{"x":0.735,"y":2.4,"v":0.011},{"x":0.75,"y":2.4,"v":0.011},
{"x":0.405,"y":2,"v":-0.022},{"x":0.42,"y":2,"v":-0.022},{"x":0.435,"y":2,"v":-0.021},{"x":0.45,"y":2,"v":-0.02},{"x":0.465,"y":2,"v":-0.019},{"x":0.48,"y":2,"v":-0.018},{"x":0.495,"y":2,"v":-0.015},{"x":0.51,"y":2,"v":-0.012},{"x":0.525,"y":2,"v":-0.009},{"x":0.54,"y":2,"v":-0.006},{"x":0.555,"y":2,"v":-0.002},{"x":0.57,"y":2,"v":0},{"x":0.585,"y":2,"v":0.002},{"x":0.6,"y":2,"v":0.004},{"x":0.615,"y":2,"v":0.007},{"x":0.63,"y":2,"v":0.008},{"x":0.645,"y":2,"v":0.009},{"x":0.66,"y":2,"v":0.01},{"x":0.675,"y":2,"v":0.01},{"x":0.69,"y":2,"v":0.01},{"x":0.705,"y":2,"v":0.01},{"x":0.72,"y":2,"v":0.01},{"x":0.735,"y":2,"v":0.009},{"x":0.75,"y":2,"v":0.008},
{"x":0.405,"y":1.7,"v":-0.018},{"x":0.42,"y":1.7,"v":-0.02},{"x":0.435,"y":1.7,"v":-0.02},{"x":0.45,"y":1.7,"v":-0.022},{"x":0.465,"y":1.7,"v":-0.022},{"x":0.48,"y":1.7,"v":-0.022},{"x":0.495,"y":1.7,"v":-0.022},{"x":0.51,"y":1.7,"v":-0.02},{"x":0.525,"y":1.7,"v":-0.015},{"x":0.54,"y":1.7,"v":-0.011},{"x":0.555,"y":1.7,"v":-0.004},{"x":0.57,"y":1.7,"v":-0.001},{"x":0.585,"y":1.7,"v":0.002},{"x":0.6,"y":1.7,"v":0.004},{"x":0.615,"y":1.7,"v":0.007},{"x":0.63,"y":1.7,"v":0.007},{"x":0.645,"y":1.7,"v":0.007},{"x":0.66,"y":1.7,"v":0.007},{"x":0.675,"y":1.7,"v":0.007},{"x":0.69,"y":1.7,"v":0.004},{"x":0.705,"y":1.7,"v":0.002},{"x":0.72,"y":1.7,"v":0.002},{"x":0.735,"y":1.7,"v":0.002},{"x":0.75,"y":1.7,"v":0.002}
]},"mark":{"type":"rect","width":28,"height":26,"clip":true},"encoding":{"x":{"field":"x","type":"quantitative"},"y":{"field":"y","type":"quantitative"},"color":{"field":"v","type":"quantitative"}}},{"data":{"values":[
{"x":0.405,"y":1.44,"v":-0.008},{"x":0.42,"y":1.44,"v":-0.013},{"x":0.435,"y":1.44,"v":-0.018},{"x":0.45,"y":1.44,"v":-0.022},{"x":0.465,"y":1.44,"v":-0.024},{"x":0.48,"y":1.44,"v":-0.026},{"x":0.495,"y":1.44,"v":-0.025},{"x":0.51,"y":1.44,"v":-0.022},{"x":0.525,"y":1.44,"v":-0.017},{"x":0.54,"y":1.44,"v":-0.009},{"x":0.555,"y":1.44,"v":-0.003},{"x":0.57,"y":1.44,"v":0},{"x":0.585,"y":1.44,"v":0.002},{"x":0.6,"y":1.44,"v":0.003},{"x":0.615,"y":1.44,"v":0.004},{"x":0.63,"y":1.44,"v":0.004},{"x":0.645,"y":1.44,"v":0.003},{"x":0.66,"y":1.44,"v":0.002},{"x":0.675,"y":1.44,"v":0.001},{"x":0.69,"y":1.44,"v":-0.001},{"x":0.705,"y":1.44,"v":-0.002},{"x":0.72,"y":1.44,"v":-0.002},{"x":0.735,"y":1.44,"v":-0.003},{"x":0.75,"y":1.44,"v":-0.003},
{"x":0.405,"y":1.25,"v":0.007},{"x":0.42,"y":1.25,"v":0.004},{"x":0.435,"y":1.25,"v":-0.003},{"x":0.45,"y":1.25,"v":-0.007},{"x":0.465,"y":1.25,"v":-0.015},{"x":0.48,"y":1.25,"v":-0.022},{"x":0.495,"y":1.25,"v":-0.026},{"x":0.51,"y":1.25,"v":-0.028},{"x":0.525,"y":1.25,"v":-0.025},{"x":0.54,"y":1.25,"v":-0.018},{"x":0.555,"y":1.25,"v":-0.011},{"x":0.57,"y":1.25,"v":-0.002},{"x":0.585,"y":1.25,"v":0.002},{"x":0.6,"y":1.25,"v":0.004},{"x":0.615,"y":1.25,"v":0.004},{"x":0.63,"y":1.25,"v":0.002},{"x":0.645,"y":1.25,"v":0},{"x":0.66,"y":1.25,"v":-0.002},{"x":0.675,"y":1.25,"v":-0.004},{"x":0.69,"y":1.25,"v":-0.004},{"x":0.705,"y":1.25,"v":-0.002},{"x":0.72,"y":1.25,"v":0},{"x":0.735,"y":1.25,"v":0.002},{"x":0.75,"y":1.25,"v":0.004},
{"x":0.405,"y":1.06,"v":0.02},{"x":0.42,"y":1.06,"v":0.02},{"x":0.435,"y":1.06,"v":0.017},{"x":0.45,"y":1.06,"v":0.007},{"x":0.465,"y":1.06,"v":0},{"x":0.48,"y":1.06,"v":-0.013},{"x":0.495,"y":1.06,"v":-0.022},{"x":0.51,"y":1.06,"v":-0.028},{"x":0.525,"y":1.06,"v":-0.03},{"x":0.54,"y":1.06,"v":-0.02},{"x":0.555,"y":1.06,"v":-0.006},{"x":0.57,"y":1.06,"v":0},{"x":0.585,"y":1.06,"v":0.004},{"x":0.6,"y":1.06,"v":0.007},{"x":0.615,"y":1.06,"v":0},{"x":0.63,"y":1.06,"v":-0.007},{"x":0.645,"y":1.06,"v":-0.007},{"x":0.66,"y":1.06,"v":-0.002},{"x":0.675,"y":1.06,"v":0.004},{"x":0.69,"y":1.06,"v":0.011},{"x":0.705,"y":1.06,"v":0.017},{"x":0.72,"y":1.06,"v":0.018},{"x":0.735,"y":1.06,"v":0.009},{"x":0.75,"y":1.06,"v":0.007},
{"x":0.405,"y":0.87,"v":-0.004},{"x":0.42,"y":0.87,"v":0},{"x":0.435,"y":0.87,"v":0.011},{"x":0.45,"y":0.87,"v":0.022},{"x":0.465,"y":0.87,"v":0.022},{"x":0.48,"y":0.87,"v":0.004},{"x":0.495,"y":0.87,"v":-0.02},{"x":0.51,"y":0.87,"v":-0.033},{"x":0.525,"y":0.87,"v":-0.031},{"x":0.54,"y":0.87,"v":-0.015},{"x":0.555,"y":0.87,"v":0.002},{"x":0.57,"y":0.87,"v":0.007},{"x":0.585,"y":0.87,"v":-0.004},{"x":0.6,"y":0.87,"v":-0.013},{"x":0.615,"y":0.87,"v":-0.013},{"x":0.63,"y":0.87,"v":0.009},{"x":0.645,"y":0.87,"v":0.02},{"x":0.66,"y":0.87,"v":0.022},{"x":0.675,"y":0.87,"v":0.018},{"x":0.69,"y":0.87,"v":0.004},{"x":0.705,"y":0.87,"v":0.002},{"x":0.72,"y":0.87,"v":0.002},{"x":0.735,"y":0.87,"v":0.007},{"x":0.75,"y":0.87,"v":0.007},
{"x":0.405,"y":0.67,"v":-0.003},{"x":0.42,"y":0.67,"v":0.002},{"x":0.435,"y":0.67,"v":0.009},{"x":0.45,"y":0.67,"v":0.004},{"x":0.465,"y":0.67,"v":0},{"x":0.615,"y":0.67,"v":0.029},{"x":0.63,"y":0.67,"v":0.011},{"x":0.645,"y":0.67,"v":-0.002},{"x":0.66,"y":0.67,"v":0.003},{"x":0.675,"y":0.67,"v":0.008},{"x":0.69,"y":0.67,"v":0.006},{"x":0.705,"y":0.67,"v":0},{"x":0.72,"y":0.67,"v":0.007},{"x":0.735,"y":0.67,"v":-0.002},{"x":0.75,"y":0.67,"v":-0.003},
{"x":0.405,"y":0.48,"v":0},{"x":0.42,"y":0.48,"v":0.004},{"x":0.435,"y":0.48,"v":0.002},{"x":0.45,"y":0.48,"v":-0.002},{"x":0.465,"y":0.48,"v":0.008},{"x":0.615,"y":0.48,"v":0.018},{"x":0.63,"y":0.48,"v":0.008},{"x":0.645,"y":0.48,"v":0},{"x":0.66,"y":0.48,"v":0.006},{"x":0.675,"y":0.48,"v":0.002},{"x":0.69,"y":0.48,"v":0.004},{"x":0.705,"y":0.48,"v":-0.002},{"x":0.72,"y":0.48,"v":-0.002},{"x":0.735,"y":0.48,"v":-0.002},{"x":0.75,"y":0.48,"v":0.002}
]},"mark":{"type":"rect","width":28,"height":13,"clip":true},"encoding":{"x":{"field":"x","type":"quantitative"},"y":{"field":"y","type":"quantitative"},"color":{"field":"v","type":"quantitative"}}},{"data":{"values":[
{"x":0.472,"y":0.67,"v":0.004},{"x":0.479,"y":0.67,"v":0.02},{"x":0.486,"y":0.67,"v":0.035},{"x":0.493,"y":0.67,"v":0.037},{"x":0.5,"y":0.67,"v":0.022},{"x":0.507,"y":0.67,"v":0.007},{"x":0.514,"y":0.67,"v":-0.022},{"x":0.521,"y":0.67,"v":-0.035},{"x":0.528,"y":0.67,"v":-0.041},{"x":0.535,"y":0.67,"v":-0.037},{"x":0.542,"y":0.67,"v":-0.013},{"x":0.549,"y":0.67,"v":0.007},{"x":0.556,"y":0.67,"v":0.015},{"x":0.563,"y":0.67,"v":0.011},{"x":0.57,"y":0.67,"v":-0.011},{"x":0.577,"y":0.67,"v":-0.022},{"x":0.584,"y":0.67,"v":-0.026},{"x":0.591,"y":0.67,"v":-0.018},{"x":0.598,"y":0.67,"v":0.002},{"x":0.605,"y":0.67,"v":0.022},{"x":0.612,"y":0.67,"v":0.033},
{"x":0.472,"y":0.48,"v":0.004},{"x":0.479,"y":0.48,"v":0.011},{"x":0.486,"y":0.48,"v":0.018},{"x":0.493,"y":0.48,"v":0.022},{"x":0.5,"y":0.48,"v":0.017},{"x":0.507,"y":0.48,"v":0.004},{"x":0.514,"y":0.48,"v":0.042},{"x":0.521,"y":0.48,"v":0.066},{"x":0.528,"y":0.48,"v":0.018},{"x":0.535,"y":0.48,"v":-0.044},{"x":0.542,"y":0.48,"v":-0.031},{"x":0.549,"y":0.48,"v":0.055},{"x":0.556,"y":0.48,"v":0.066},{"x":0.563,"y":0.48,"v":-0.013},{"x":0.57,"y":0.48,"v":-0.033},{"x":0.577,"y":0.48,"v":0.024},{"x":0.584,"y":0.48,"v":0.066},{"x":0.591,"y":0.48,"v":0.037},{"x":0.598,"y":0.48,"v":-0.002},{"x":0.605,"y":0.48,"v":0.004},{"x":0.612,"y":0.48,"v":0.02}
]},"mark":{"type":"rect","width":14,"height":13,"clip":true},"encoding":{"x":{"field":"x","type":"quantitative"},"y":{"field":"y","type":"quantitative"},"color":{"field":"v","type":"quantitative"}}},{"data":{"values":[{"x":-0.164,"x2":0.763,"y":2.53},{"x":-0.159,"x2":0.769,"y":1.57}]},"mark":{"type":"rule","color":"#c00000","strokeWidth":6,"strokeDash":[24,8]},"encoding":{"x":{"field":"x","type":"quantitative"},"x2":{"field":"x2"},"y":{"field":"y","type":"quantitative"}}},{"data":{"values":[{"x":0.3995,"y":10.83,"t":"η"},{"x":0.609,"y":10.83,"t":"η"}]},"mark":{"type":"text","font":"Liberation Serif","fontStyle":"italic","fontSize":60,"align":"left","baseline":"alphabetic"},"encoding":{"x":{"field":"x","type":"quantitative"},"y":{"field":"y","type":"quantitative"},"text":{"field":"t"}}},{"data":{"values":[{"x":0.475,"y":10.83,"t":"(λ, Λ)"},{"x":0.5714,"y":10.83,"t":"−"},{"x":0.6796,"y":10.83,"t":"(λ, Λ)"}]},"mark":{"type":"text","font":"Liberation Serif","fontSize":66,"align":"left","baseline":"alphabetic"},"encoding":{"x":{"field":"x","type":"quantitative"},"y":{"field":"y","type":"quantitative"},"text":{"field":"t"}}},{"data":{"values":[{"x":0.42,"y":11.19,"t":"TE"},{"x":0.6285,"y":11.19,"t":"TM"}]},"mark":{"type":"text","font":"Liberation Serif","fontSize":48,"align":"left","baseline":"alphabetic"},"encoding":{"x":{"field":"x","type":"quantitative"},"y":{"field":"y","type":"quantitative"},"text":{"field":"t"}}},{"data":{"values":[{"x":0.4193,"y":10.54,"t":"m=1"},{"x":0.6268,"y":10.54,"t":"m=1"}]},"mark":{"type":"text","font":"Liberation Serif","fontStyle":"italic","fontSize":48,"align":"left","baseline":"alphabetic"},"encoding":{"x":{"field":"x","type":"quantitative"},"y":{"field":"y","type":"quantitative"},"text":{"field":"t"}}}]}]}]}
